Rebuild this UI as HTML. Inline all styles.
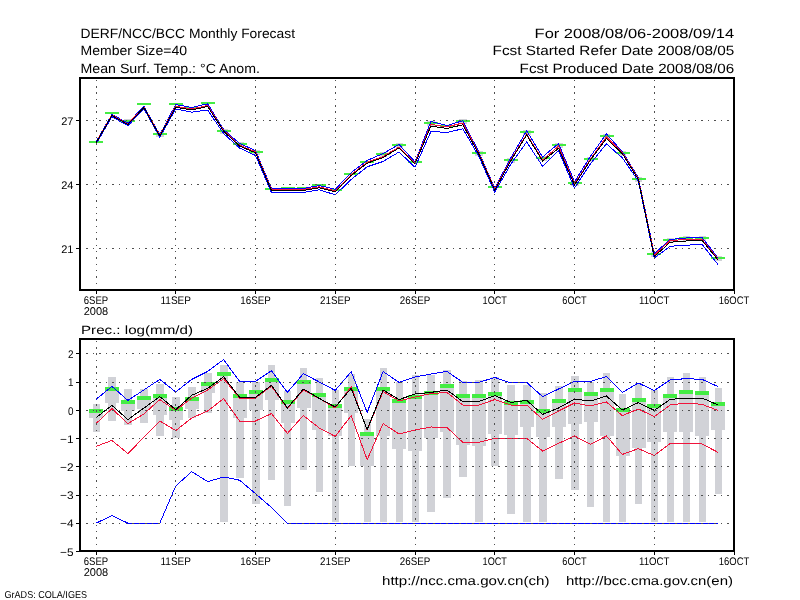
<!DOCTYPE html>
<html><head><meta charset="utf-8"><title>DERF/NCC/BCC Monthly Forecast</title>
<style>html,body{margin:0;padding:0;background:#fff;width:800px;height:600px;overflow:hidden}svg{display:block}</style>
</head><body>
<svg width="800" height="600" viewBox="0 0 800 600" shape-rendering="crispEdges">
<rect x="0" y="0" width="800" height="600" fill="#ffffff"/>
<rect x="124" y="119" width="8" height="5" fill="#d1d2d7"/>
<rect x="156" y="132" width="8" height="5" fill="#d1d2d7"/>
<rect x="220" y="129" width="8" height="5" fill="#d1d2d7"/>
<rect x="236" y="142" width="8" height="5" fill="#d1d2d7"/>
<rect x="252" y="150" width="8" height="5" fill="#d1d2d7"/>
<rect x="380" y="152" width="7" height="5" fill="#d1d2d7"/>
<rect x="396" y="143" width="7" height="5" fill="#d1d2d7"/>
<rect x="427" y="121" width="8" height="5" fill="#d1d2d7"/>
<rect x="459" y="119" width="8" height="5" fill="#d1d2d7"/>
<rect x="475" y="151" width="8" height="5" fill="#d1d2d7"/>
<rect x="507" y="158" width="8" height="5" fill="#d1d2d7"/>
<rect x="523" y="130" width="8" height="5" fill="#d1d2d7"/>
<rect x="539" y="156" width="8" height="5" fill="#d1d2d7"/>
<rect x="555" y="143" width="8" height="5" fill="#d1d2d7"/>
<rect x="571" y="181" width="8" height="5" fill="#d1d2d7"/>
<rect x="587" y="157" width="7" height="5" fill="#d1d2d7"/>
<rect x="603" y="134" width="7" height="5" fill="#d1d2d7"/>
<rect x="619" y="151" width="7" height="5" fill="#d1d2d7"/>
<rect x="635" y="177" width="7" height="5" fill="#d1d2d7"/>
<rect x="651" y="252" width="7" height="5" fill="#d1d2d7"/>
<rect x="667" y="238" width="7" height="5" fill="#d1d2d7"/>
<rect x="683" y="236" width="7" height="5" fill="#d1d2d7"/>
<rect x="699" y="236" width="7" height="5" fill="#d1d2d7"/>
<rect x="715" y="256" width="7" height="5" fill="#d1d2d7"/>
<rect x="89" y="141" width="14" height="2" fill="#44ec44"/>
<rect x="105" y="112" width="14" height="2" fill="#44ec44"/>
<rect x="121" y="120" width="14" height="2" fill="#44ec44"/>
<rect x="137" y="103" width="14" height="2" fill="#44ec44"/>
<rect x="153" y="133" width="14" height="2" fill="#44ec44"/>
<rect x="169" y="103" width="14" height="2" fill="#44ec44"/>
<rect x="185" y="107" width="14" height="2" fill="#44ec44"/>
<rect x="201" y="102" width="14" height="2" fill="#44ec44"/>
<rect x="217" y="130" width="14" height="2" fill="#44ec44"/>
<rect x="233" y="143" width="14" height="2" fill="#44ec44"/>
<rect x="249" y="151" width="14" height="2" fill="#44ec44"/>
<rect x="265" y="188" width="14" height="2" fill="#44ec44"/>
<rect x="281" y="187" width="14" height="2" fill="#44ec44"/>
<rect x="297" y="187" width="14" height="2" fill="#44ec44"/>
<rect x="312" y="184" width="14" height="2" fill="#44ec44"/>
<rect x="328" y="189" width="14" height="2" fill="#44ec44"/>
<rect x="344" y="173" width="14" height="2" fill="#44ec44"/>
<rect x="360" y="161" width="14" height="2" fill="#44ec44"/>
<rect x="376" y="153" width="14" height="2" fill="#44ec44"/>
<rect x="392" y="144" width="14" height="2" fill="#44ec44"/>
<rect x="408" y="161" width="14" height="2" fill="#44ec44"/>
<rect x="424" y="122" width="14" height="2" fill="#44ec44"/>
<rect x="440" y="125" width="14" height="2" fill="#44ec44"/>
<rect x="456" y="120" width="14" height="2" fill="#44ec44"/>
<rect x="472" y="152" width="14" height="2" fill="#44ec44"/>
<rect x="488" y="186" width="14" height="2" fill="#44ec44"/>
<rect x="504" y="159" width="14" height="2" fill="#44ec44"/>
<rect x="520" y="131" width="14" height="2" fill="#44ec44"/>
<rect x="536" y="157" width="14" height="2" fill="#44ec44"/>
<rect x="552" y="144" width="14" height="2" fill="#44ec44"/>
<rect x="568" y="182" width="14" height="2" fill="#44ec44"/>
<rect x="584" y="158" width="14" height="2" fill="#44ec44"/>
<rect x="600" y="135" width="14" height="2" fill="#44ec44"/>
<rect x="616" y="152" width="14" height="2" fill="#44ec44"/>
<rect x="632" y="178" width="14" height="2" fill="#44ec44"/>
<rect x="647" y="253" width="14" height="2" fill="#44ec44"/>
<rect x="663" y="239" width="14" height="2" fill="#44ec44"/>
<rect x="679" y="237" width="14" height="2" fill="#44ec44"/>
<rect x="695" y="237" width="14" height="2" fill="#44ec44"/>
<rect x="711" y="257" width="14" height="2" fill="#44ec44"/>
<polyline points="96,144 111.95,116.7 127.9,125.7 143.85,108.7 159.8,137.2 175.75,109 191.7,112.2 207.65,110 223.6,133.5 239.55,148 255.5,155.5 271.45,192.5 287.4,192.5 303.35,192.5 319.3,189.8 335.25,194.8 351.2,179.5 367.15,166.8 383.1,161.5 399.05,152 415,167.25 430.95,131.3 446.9,132.5 462.85,128.75 478.8,156.2 494.75,192.3 510.7,164.3 526.65,142 542.6,166.25 558.55,150.8 574.5,188 590.45,163.7 606.4,143.8 622.35,157.9 638.3,181 654.25,258 670.2,246.3 686.15,245.2 702.1,244.5 718.05,264.5" fill="none" stroke="#0000ff" stroke-width="1"/>
<polyline points="96,142 111.95,114.3 127.9,123.3 143.85,106.3 159.8,134.8 175.75,104.5 191.7,107.5 207.65,103.8 223.6,129.5 239.55,143.5 255.5,150.5 271.45,188.5 287.4,188.5 303.35,188.5 319.3,185.5 335.25,189.3 351.2,172.5 367.15,160.5 383.1,153.5 399.05,144.5 415,161.85 430.95,121.5 446.9,125.6 462.85,120.65 478.8,152 494.75,188.2 510.7,158 526.65,130.8 542.6,157 558.55,143.5 574.5,181.9 590.45,156.3 606.4,133.9 622.35,151.7 638.3,177.5 654.25,253.5 670.2,239.5 686.15,238 702.1,237.5 718.05,258" fill="none" stroke="#0000ff" stroke-width="1"/>
<polyline points="96,142.5 111.95,115 127.9,124 143.85,107 159.8,135.5 175.75,106.2 191.7,109 207.65,105.5 223.6,130.5 239.55,145.2 255.5,151.8 271.45,189.5 287.4,189.5 303.35,189.5 319.3,186.8 335.25,190.8 351.2,174.5 367.15,162.2 383.1,156.5 399.05,147 415,162.75 430.95,124.4 446.9,126.9 462.85,122.95 478.8,153 494.75,189 510.7,160 526.65,134 542.6,160 558.55,146.1 574.5,184 590.45,159 606.4,137 622.35,152.6 638.3,178.4 654.25,255 670.2,240.5 686.15,239.5 702.1,239.5 718.05,259" fill="none" stroke="#f0143c" stroke-width="1"/>
<polyline points="96,143 111.95,115.5 127.9,124.5 143.85,107.5 159.8,136 175.75,107.2 191.7,110 207.65,106.5 223.6,131.2 239.55,146 255.5,152.8 271.45,190.5 287.4,190.5 303.35,190.5 319.3,187.8 335.25,191.8 351.2,175.5 367.15,163.2 383.1,157.5 399.05,148 415,163.75 430.95,126 446.9,128.5 462.85,124.75 478.8,154 494.75,190 510.7,161 526.65,135 542.6,161 558.55,148.3 574.5,185 590.45,160 606.4,138.7 622.35,153.6 638.3,179.4 654.25,256.5 670.2,242.2 686.15,241 702.1,240.5 718.05,260" fill="none" stroke="#000000" stroke-width="1"/>
<rect x="96" y="80" width="1" height="1" fill="#505050"/>
<rect x="96" y="86" width="1" height="2" fill="#505050"/>
<rect x="96" y="92" width="1" height="2" fill="#505050"/>
<rect x="96" y="99" width="1" height="1" fill="#505050"/>
<rect x="96" y="105" width="1" height="2" fill="#505050"/>
<rect x="96" y="111" width="1" height="2" fill="#505050"/>
<rect x="96" y="118" width="1" height="1" fill="#505050"/>
<rect x="96" y="124" width="1" height="2" fill="#505050"/>
<rect x="96" y="130" width="1" height="2" fill="#505050"/>
<rect x="96" y="137" width="1" height="1" fill="#505050"/>
<rect x="96" y="143" width="1" height="2" fill="#505050"/>
<rect x="96" y="149" width="1" height="2" fill="#505050"/>
<rect x="96" y="156" width="1" height="1" fill="#505050"/>
<rect x="96" y="162" width="1" height="2" fill="#505050"/>
<rect x="96" y="169" width="1" height="1" fill="#505050"/>
<rect x="96" y="175" width="1" height="1" fill="#505050"/>
<rect x="96" y="181" width="1" height="2" fill="#505050"/>
<rect x="96" y="188" width="1" height="1" fill="#505050"/>
<rect x="96" y="194" width="1" height="1" fill="#505050"/>
<rect x="96" y="200" width="1" height="2" fill="#505050"/>
<rect x="96" y="207" width="1" height="1" fill="#505050"/>
<rect x="96" y="213" width="1" height="1" fill="#505050"/>
<rect x="96" y="219" width="1" height="2" fill="#505050"/>
<rect x="96" y="226" width="1" height="1" fill="#505050"/>
<rect x="96" y="232" width="1" height="1" fill="#505050"/>
<rect x="96" y="238" width="1" height="2" fill="#505050"/>
<rect x="96" y="245" width="1" height="1" fill="#505050"/>
<rect x="96" y="251" width="1" height="1" fill="#505050"/>
<rect x="96" y="257" width="1" height="2" fill="#505050"/>
<rect x="96" y="264" width="1" height="1" fill="#505050"/>
<rect x="96" y="270" width="1" height="1" fill="#505050"/>
<rect x="96" y="276" width="1" height="2" fill="#505050"/>
<rect x="96" y="283" width="1" height="1" fill="#505050"/>
<rect x="175" y="80" width="1" height="1" fill="#505050"/>
<rect x="175" y="86" width="1" height="2" fill="#505050"/>
<rect x="175" y="92" width="1" height="2" fill="#505050"/>
<rect x="175" y="99" width="1" height="1" fill="#505050"/>
<rect x="175" y="105" width="1" height="2" fill="#505050"/>
<rect x="175" y="111" width="1" height="2" fill="#505050"/>
<rect x="175" y="118" width="1" height="1" fill="#505050"/>
<rect x="175" y="124" width="1" height="2" fill="#505050"/>
<rect x="175" y="130" width="1" height="2" fill="#505050"/>
<rect x="175" y="137" width="1" height="1" fill="#505050"/>
<rect x="175" y="143" width="1" height="2" fill="#505050"/>
<rect x="175" y="149" width="1" height="2" fill="#505050"/>
<rect x="175" y="156" width="1" height="1" fill="#505050"/>
<rect x="175" y="162" width="1" height="2" fill="#505050"/>
<rect x="175" y="169" width="1" height="1" fill="#505050"/>
<rect x="175" y="175" width="1" height="1" fill="#505050"/>
<rect x="175" y="181" width="1" height="2" fill="#505050"/>
<rect x="175" y="188" width="1" height="1" fill="#505050"/>
<rect x="175" y="194" width="1" height="1" fill="#505050"/>
<rect x="175" y="200" width="1" height="2" fill="#505050"/>
<rect x="175" y="207" width="1" height="1" fill="#505050"/>
<rect x="175" y="213" width="1" height="1" fill="#505050"/>
<rect x="175" y="219" width="1" height="2" fill="#505050"/>
<rect x="175" y="226" width="1" height="1" fill="#505050"/>
<rect x="175" y="232" width="1" height="1" fill="#505050"/>
<rect x="175" y="238" width="1" height="2" fill="#505050"/>
<rect x="175" y="245" width="1" height="1" fill="#505050"/>
<rect x="175" y="251" width="1" height="1" fill="#505050"/>
<rect x="175" y="257" width="1" height="2" fill="#505050"/>
<rect x="175" y="264" width="1" height="1" fill="#505050"/>
<rect x="175" y="270" width="1" height="1" fill="#505050"/>
<rect x="175" y="276" width="1" height="2" fill="#505050"/>
<rect x="175" y="283" width="1" height="1" fill="#505050"/>
<rect x="255" y="80" width="1" height="1" fill="#505050"/>
<rect x="255" y="86" width="1" height="2" fill="#505050"/>
<rect x="255" y="92" width="1" height="2" fill="#505050"/>
<rect x="255" y="99" width="1" height="1" fill="#505050"/>
<rect x="255" y="105" width="1" height="2" fill="#505050"/>
<rect x="255" y="111" width="1" height="2" fill="#505050"/>
<rect x="255" y="118" width="1" height="1" fill="#505050"/>
<rect x="255" y="124" width="1" height="2" fill="#505050"/>
<rect x="255" y="130" width="1" height="2" fill="#505050"/>
<rect x="255" y="137" width="1" height="1" fill="#505050"/>
<rect x="255" y="143" width="1" height="2" fill="#505050"/>
<rect x="255" y="149" width="1" height="2" fill="#505050"/>
<rect x="255" y="156" width="1" height="1" fill="#505050"/>
<rect x="255" y="162" width="1" height="2" fill="#505050"/>
<rect x="255" y="169" width="1" height="1" fill="#505050"/>
<rect x="255" y="175" width="1" height="1" fill="#505050"/>
<rect x="255" y="181" width="1" height="2" fill="#505050"/>
<rect x="255" y="188" width="1" height="1" fill="#505050"/>
<rect x="255" y="194" width="1" height="1" fill="#505050"/>
<rect x="255" y="200" width="1" height="2" fill="#505050"/>
<rect x="255" y="207" width="1" height="1" fill="#505050"/>
<rect x="255" y="213" width="1" height="1" fill="#505050"/>
<rect x="255" y="219" width="1" height="2" fill="#505050"/>
<rect x="255" y="226" width="1" height="1" fill="#505050"/>
<rect x="255" y="232" width="1" height="1" fill="#505050"/>
<rect x="255" y="238" width="1" height="2" fill="#505050"/>
<rect x="255" y="245" width="1" height="1" fill="#505050"/>
<rect x="255" y="251" width="1" height="1" fill="#505050"/>
<rect x="255" y="257" width="1" height="2" fill="#505050"/>
<rect x="255" y="264" width="1" height="1" fill="#505050"/>
<rect x="255" y="270" width="1" height="1" fill="#505050"/>
<rect x="255" y="276" width="1" height="2" fill="#505050"/>
<rect x="255" y="283" width="1" height="1" fill="#505050"/>
<rect x="335" y="80" width="1" height="1" fill="#505050"/>
<rect x="335" y="86" width="1" height="2" fill="#505050"/>
<rect x="335" y="92" width="1" height="2" fill="#505050"/>
<rect x="335" y="99" width="1" height="1" fill="#505050"/>
<rect x="335" y="105" width="1" height="2" fill="#505050"/>
<rect x="335" y="111" width="1" height="2" fill="#505050"/>
<rect x="335" y="118" width="1" height="1" fill="#505050"/>
<rect x="335" y="124" width="1" height="2" fill="#505050"/>
<rect x="335" y="130" width="1" height="2" fill="#505050"/>
<rect x="335" y="137" width="1" height="1" fill="#505050"/>
<rect x="335" y="143" width="1" height="2" fill="#505050"/>
<rect x="335" y="149" width="1" height="2" fill="#505050"/>
<rect x="335" y="156" width="1" height="1" fill="#505050"/>
<rect x="335" y="162" width="1" height="2" fill="#505050"/>
<rect x="335" y="169" width="1" height="1" fill="#505050"/>
<rect x="335" y="175" width="1" height="1" fill="#505050"/>
<rect x="335" y="181" width="1" height="2" fill="#505050"/>
<rect x="335" y="188" width="1" height="1" fill="#505050"/>
<rect x="335" y="194" width="1" height="1" fill="#505050"/>
<rect x="335" y="200" width="1" height="2" fill="#505050"/>
<rect x="335" y="207" width="1" height="1" fill="#505050"/>
<rect x="335" y="213" width="1" height="1" fill="#505050"/>
<rect x="335" y="219" width="1" height="2" fill="#505050"/>
<rect x="335" y="226" width="1" height="1" fill="#505050"/>
<rect x="335" y="232" width="1" height="1" fill="#505050"/>
<rect x="335" y="238" width="1" height="2" fill="#505050"/>
<rect x="335" y="245" width="1" height="1" fill="#505050"/>
<rect x="335" y="251" width="1" height="1" fill="#505050"/>
<rect x="335" y="257" width="1" height="2" fill="#505050"/>
<rect x="335" y="264" width="1" height="1" fill="#505050"/>
<rect x="335" y="270" width="1" height="1" fill="#505050"/>
<rect x="335" y="276" width="1" height="2" fill="#505050"/>
<rect x="335" y="283" width="1" height="1" fill="#505050"/>
<rect x="415" y="80" width="1" height="1" fill="#505050"/>
<rect x="415" y="86" width="1" height="2" fill="#505050"/>
<rect x="415" y="92" width="1" height="2" fill="#505050"/>
<rect x="415" y="99" width="1" height="1" fill="#505050"/>
<rect x="415" y="105" width="1" height="2" fill="#505050"/>
<rect x="415" y="111" width="1" height="2" fill="#505050"/>
<rect x="415" y="118" width="1" height="1" fill="#505050"/>
<rect x="415" y="124" width="1" height="2" fill="#505050"/>
<rect x="415" y="130" width="1" height="2" fill="#505050"/>
<rect x="415" y="137" width="1" height="1" fill="#505050"/>
<rect x="415" y="143" width="1" height="2" fill="#505050"/>
<rect x="415" y="149" width="1" height="2" fill="#505050"/>
<rect x="415" y="156" width="1" height="1" fill="#505050"/>
<rect x="415" y="162" width="1" height="2" fill="#505050"/>
<rect x="415" y="169" width="1" height="1" fill="#505050"/>
<rect x="415" y="175" width="1" height="1" fill="#505050"/>
<rect x="415" y="181" width="1" height="2" fill="#505050"/>
<rect x="415" y="188" width="1" height="1" fill="#505050"/>
<rect x="415" y="194" width="1" height="1" fill="#505050"/>
<rect x="415" y="200" width="1" height="2" fill="#505050"/>
<rect x="415" y="207" width="1" height="1" fill="#505050"/>
<rect x="415" y="213" width="1" height="1" fill="#505050"/>
<rect x="415" y="219" width="1" height="2" fill="#505050"/>
<rect x="415" y="226" width="1" height="1" fill="#505050"/>
<rect x="415" y="232" width="1" height="1" fill="#505050"/>
<rect x="415" y="238" width="1" height="2" fill="#505050"/>
<rect x="415" y="245" width="1" height="1" fill="#505050"/>
<rect x="415" y="251" width="1" height="1" fill="#505050"/>
<rect x="415" y="257" width="1" height="2" fill="#505050"/>
<rect x="415" y="264" width="1" height="1" fill="#505050"/>
<rect x="415" y="270" width="1" height="1" fill="#505050"/>
<rect x="415" y="276" width="1" height="2" fill="#505050"/>
<rect x="415" y="283" width="1" height="1" fill="#505050"/>
<rect x="494" y="80" width="1" height="1" fill="#505050"/>
<rect x="494" y="86" width="1" height="2" fill="#505050"/>
<rect x="494" y="92" width="1" height="2" fill="#505050"/>
<rect x="494" y="99" width="1" height="1" fill="#505050"/>
<rect x="494" y="105" width="1" height="2" fill="#505050"/>
<rect x="494" y="111" width="1" height="2" fill="#505050"/>
<rect x="494" y="118" width="1" height="1" fill="#505050"/>
<rect x="494" y="124" width="1" height="2" fill="#505050"/>
<rect x="494" y="130" width="1" height="2" fill="#505050"/>
<rect x="494" y="137" width="1" height="1" fill="#505050"/>
<rect x="494" y="143" width="1" height="2" fill="#505050"/>
<rect x="494" y="149" width="1" height="2" fill="#505050"/>
<rect x="494" y="156" width="1" height="1" fill="#505050"/>
<rect x="494" y="162" width="1" height="2" fill="#505050"/>
<rect x="494" y="169" width="1" height="1" fill="#505050"/>
<rect x="494" y="175" width="1" height="1" fill="#505050"/>
<rect x="494" y="181" width="1" height="2" fill="#505050"/>
<rect x="494" y="188" width="1" height="1" fill="#505050"/>
<rect x="494" y="194" width="1" height="1" fill="#505050"/>
<rect x="494" y="200" width="1" height="2" fill="#505050"/>
<rect x="494" y="207" width="1" height="1" fill="#505050"/>
<rect x="494" y="213" width="1" height="1" fill="#505050"/>
<rect x="494" y="219" width="1" height="2" fill="#505050"/>
<rect x="494" y="226" width="1" height="1" fill="#505050"/>
<rect x="494" y="232" width="1" height="1" fill="#505050"/>
<rect x="494" y="238" width="1" height="2" fill="#505050"/>
<rect x="494" y="245" width="1" height="1" fill="#505050"/>
<rect x="494" y="251" width="1" height="1" fill="#505050"/>
<rect x="494" y="257" width="1" height="2" fill="#505050"/>
<rect x="494" y="264" width="1" height="1" fill="#505050"/>
<rect x="494" y="270" width="1" height="1" fill="#505050"/>
<rect x="494" y="276" width="1" height="2" fill="#505050"/>
<rect x="494" y="283" width="1" height="1" fill="#505050"/>
<rect x="574" y="80" width="1" height="1" fill="#505050"/>
<rect x="574" y="86" width="1" height="2" fill="#505050"/>
<rect x="574" y="92" width="1" height="2" fill="#505050"/>
<rect x="574" y="99" width="1" height="1" fill="#505050"/>
<rect x="574" y="105" width="1" height="2" fill="#505050"/>
<rect x="574" y="111" width="1" height="2" fill="#505050"/>
<rect x="574" y="118" width="1" height="1" fill="#505050"/>
<rect x="574" y="124" width="1" height="2" fill="#505050"/>
<rect x="574" y="130" width="1" height="2" fill="#505050"/>
<rect x="574" y="137" width="1" height="1" fill="#505050"/>
<rect x="574" y="143" width="1" height="2" fill="#505050"/>
<rect x="574" y="149" width="1" height="2" fill="#505050"/>
<rect x="574" y="156" width="1" height="1" fill="#505050"/>
<rect x="574" y="162" width="1" height="2" fill="#505050"/>
<rect x="574" y="169" width="1" height="1" fill="#505050"/>
<rect x="574" y="175" width="1" height="1" fill="#505050"/>
<rect x="574" y="181" width="1" height="2" fill="#505050"/>
<rect x="574" y="188" width="1" height="1" fill="#505050"/>
<rect x="574" y="194" width="1" height="1" fill="#505050"/>
<rect x="574" y="200" width="1" height="2" fill="#505050"/>
<rect x="574" y="207" width="1" height="1" fill="#505050"/>
<rect x="574" y="213" width="1" height="1" fill="#505050"/>
<rect x="574" y="219" width="1" height="2" fill="#505050"/>
<rect x="574" y="226" width="1" height="1" fill="#505050"/>
<rect x="574" y="232" width="1" height="1" fill="#505050"/>
<rect x="574" y="238" width="1" height="2" fill="#505050"/>
<rect x="574" y="245" width="1" height="1" fill="#505050"/>
<rect x="574" y="251" width="1" height="1" fill="#505050"/>
<rect x="574" y="257" width="1" height="2" fill="#505050"/>
<rect x="574" y="264" width="1" height="1" fill="#505050"/>
<rect x="574" y="270" width="1" height="1" fill="#505050"/>
<rect x="574" y="276" width="1" height="2" fill="#505050"/>
<rect x="574" y="283" width="1" height="1" fill="#505050"/>
<rect x="654" y="80" width="1" height="1" fill="#505050"/>
<rect x="654" y="86" width="1" height="2" fill="#505050"/>
<rect x="654" y="92" width="1" height="2" fill="#505050"/>
<rect x="654" y="99" width="1" height="1" fill="#505050"/>
<rect x="654" y="105" width="1" height="2" fill="#505050"/>
<rect x="654" y="111" width="1" height="2" fill="#505050"/>
<rect x="654" y="118" width="1" height="1" fill="#505050"/>
<rect x="654" y="124" width="1" height="2" fill="#505050"/>
<rect x="654" y="130" width="1" height="2" fill="#505050"/>
<rect x="654" y="137" width="1" height="1" fill="#505050"/>
<rect x="654" y="143" width="1" height="2" fill="#505050"/>
<rect x="654" y="149" width="1" height="2" fill="#505050"/>
<rect x="654" y="156" width="1" height="1" fill="#505050"/>
<rect x="654" y="162" width="1" height="2" fill="#505050"/>
<rect x="654" y="169" width="1" height="1" fill="#505050"/>
<rect x="654" y="175" width="1" height="1" fill="#505050"/>
<rect x="654" y="181" width="1" height="2" fill="#505050"/>
<rect x="654" y="188" width="1" height="1" fill="#505050"/>
<rect x="654" y="194" width="1" height="1" fill="#505050"/>
<rect x="654" y="200" width="1" height="2" fill="#505050"/>
<rect x="654" y="207" width="1" height="1" fill="#505050"/>
<rect x="654" y="213" width="1" height="1" fill="#505050"/>
<rect x="654" y="219" width="1" height="2" fill="#505050"/>
<rect x="654" y="226" width="1" height="1" fill="#505050"/>
<rect x="654" y="232" width="1" height="1" fill="#505050"/>
<rect x="654" y="238" width="1" height="2" fill="#505050"/>
<rect x="654" y="245" width="1" height="1" fill="#505050"/>
<rect x="654" y="251" width="1" height="1" fill="#505050"/>
<rect x="654" y="257" width="1" height="2" fill="#505050"/>
<rect x="654" y="264" width="1" height="1" fill="#505050"/>
<rect x="654" y="270" width="1" height="1" fill="#505050"/>
<rect x="654" y="276" width="1" height="2" fill="#505050"/>
<rect x="654" y="283" width="1" height="1" fill="#505050"/>
<rect x="86" y="120" width="2" height="1" fill="#505050"/>
<rect x="93" y="120" width="1" height="1" fill="#505050"/>
<rect x="99" y="120" width="2" height="1" fill="#505050"/>
<rect x="106" y="120" width="1" height="1" fill="#505050"/>
<rect x="112" y="120" width="2" height="1" fill="#505050"/>
<rect x="119" y="120" width="1" height="1" fill="#505050"/>
<rect x="126" y="120" width="1" height="1" fill="#505050"/>
<rect x="132" y="120" width="2" height="1" fill="#505050"/>
<rect x="139" y="120" width="1" height="1" fill="#505050"/>
<rect x="145" y="120" width="2" height="1" fill="#505050"/>
<rect x="152" y="120" width="1" height="1" fill="#505050"/>
<rect x="158" y="120" width="2" height="1" fill="#505050"/>
<rect x="165" y="120" width="1" height="1" fill="#505050"/>
<rect x="171" y="120" width="2" height="1" fill="#505050"/>
<rect x="178" y="120" width="1" height="1" fill="#505050"/>
<rect x="184" y="120" width="2" height="1" fill="#505050"/>
<rect x="191" y="120" width="1" height="1" fill="#505050"/>
<rect x="197" y="120" width="2" height="1" fill="#505050"/>
<rect x="204" y="120" width="2" height="1" fill="#505050"/>
<rect x="211" y="120" width="1" height="1" fill="#505050"/>
<rect x="217" y="120" width="2" height="1" fill="#505050"/>
<rect x="224" y="120" width="1" height="1" fill="#505050"/>
<rect x="230" y="120" width="2" height="1" fill="#505050"/>
<rect x="237" y="120" width="1" height="1" fill="#505050"/>
<rect x="243" y="120" width="2" height="1" fill="#505050"/>
<rect x="250" y="120" width="1" height="1" fill="#505050"/>
<rect x="256" y="120" width="2" height="1" fill="#505050"/>
<rect x="263" y="120" width="1" height="1" fill="#505050"/>
<rect x="269" y="120" width="2" height="1" fill="#505050"/>
<rect x="276" y="120" width="1" height="1" fill="#505050"/>
<rect x="283" y="120" width="1" height="1" fill="#505050"/>
<rect x="289" y="120" width="2" height="1" fill="#505050"/>
<rect x="296" y="120" width="1" height="1" fill="#505050"/>
<rect x="302" y="120" width="2" height="1" fill="#505050"/>
<rect x="309" y="120" width="1" height="1" fill="#505050"/>
<rect x="315" y="120" width="2" height="1" fill="#505050"/>
<rect x="322" y="120" width="1" height="1" fill="#505050"/>
<rect x="328" y="120" width="2" height="1" fill="#505050"/>
<rect x="335" y="120" width="1" height="1" fill="#505050"/>
<rect x="341" y="120" width="2" height="1" fill="#505050"/>
<rect x="348" y="120" width="1" height="1" fill="#505050"/>
<rect x="355" y="120" width="1" height="1" fill="#505050"/>
<rect x="361" y="120" width="2" height="1" fill="#505050"/>
<rect x="368" y="120" width="1" height="1" fill="#505050"/>
<rect x="374" y="120" width="2" height="1" fill="#505050"/>
<rect x="381" y="120" width="1" height="1" fill="#505050"/>
<rect x="387" y="120" width="2" height="1" fill="#505050"/>
<rect x="394" y="120" width="1" height="1" fill="#505050"/>
<rect x="400" y="120" width="2" height="1" fill="#505050"/>
<rect x="407" y="120" width="1" height="1" fill="#505050"/>
<rect x="413" y="120" width="2" height="1" fill="#505050"/>
<rect x="420" y="120" width="1" height="1" fill="#505050"/>
<rect x="426" y="120" width="2" height="1" fill="#505050"/>
<rect x="433" y="120" width="2" height="1" fill="#505050"/>
<rect x="440" y="120" width="1" height="1" fill="#505050"/>
<rect x="446" y="120" width="2" height="1" fill="#505050"/>
<rect x="453" y="120" width="1" height="1" fill="#505050"/>
<rect x="459" y="120" width="2" height="1" fill="#505050"/>
<rect x="466" y="120" width="1" height="1" fill="#505050"/>
<rect x="472" y="120" width="2" height="1" fill="#505050"/>
<rect x="479" y="120" width="1" height="1" fill="#505050"/>
<rect x="485" y="120" width="2" height="1" fill="#505050"/>
<rect x="492" y="120" width="1" height="1" fill="#505050"/>
<rect x="498" y="120" width="2" height="1" fill="#505050"/>
<rect x="505" y="120" width="2" height="1" fill="#505050"/>
<rect x="512" y="120" width="1" height="1" fill="#505050"/>
<rect x="518" y="120" width="2" height="1" fill="#505050"/>
<rect x="525" y="120" width="1" height="1" fill="#505050"/>
<rect x="531" y="120" width="2" height="1" fill="#505050"/>
<rect x="538" y="120" width="1" height="1" fill="#505050"/>
<rect x="544" y="120" width="2" height="1" fill="#505050"/>
<rect x="551" y="120" width="1" height="1" fill="#505050"/>
<rect x="557" y="120" width="2" height="1" fill="#505050"/>
<rect x="564" y="120" width="1" height="1" fill="#505050"/>
<rect x="570" y="120" width="2" height="1" fill="#505050"/>
<rect x="577" y="120" width="1" height="1" fill="#505050"/>
<rect x="584" y="120" width="1" height="1" fill="#505050"/>
<rect x="590" y="120" width="2" height="1" fill="#505050"/>
<rect x="597" y="120" width="1" height="1" fill="#505050"/>
<rect x="603" y="120" width="2" height="1" fill="#505050"/>
<rect x="610" y="120" width="1" height="1" fill="#505050"/>
<rect x="616" y="120" width="2" height="1" fill="#505050"/>
<rect x="623" y="120" width="1" height="1" fill="#505050"/>
<rect x="629" y="120" width="2" height="1" fill="#505050"/>
<rect x="636" y="120" width="1" height="1" fill="#505050"/>
<rect x="642" y="120" width="2" height="1" fill="#505050"/>
<rect x="649" y="120" width="1" height="1" fill="#505050"/>
<rect x="655" y="120" width="2" height="1" fill="#505050"/>
<rect x="662" y="120" width="2" height="1" fill="#505050"/>
<rect x="669" y="120" width="1" height="1" fill="#505050"/>
<rect x="675" y="120" width="2" height="1" fill="#505050"/>
<rect x="682" y="120" width="1" height="1" fill="#505050"/>
<rect x="688" y="120" width="2" height="1" fill="#505050"/>
<rect x="695" y="120" width="1" height="1" fill="#505050"/>
<rect x="701" y="120" width="2" height="1" fill="#505050"/>
<rect x="708" y="120" width="1" height="1" fill="#505050"/>
<rect x="714" y="120" width="2" height="1" fill="#505050"/>
<rect x="721" y="120" width="1" height="1" fill="#505050"/>
<rect x="727" y="120" width="2" height="1" fill="#505050"/>
<rect x="86" y="184" width="2" height="1" fill="#505050"/>
<rect x="93" y="184" width="1" height="1" fill="#505050"/>
<rect x="99" y="184" width="2" height="1" fill="#505050"/>
<rect x="106" y="184" width="1" height="1" fill="#505050"/>
<rect x="112" y="184" width="2" height="1" fill="#505050"/>
<rect x="119" y="184" width="1" height="1" fill="#505050"/>
<rect x="126" y="184" width="1" height="1" fill="#505050"/>
<rect x="132" y="184" width="2" height="1" fill="#505050"/>
<rect x="139" y="184" width="1" height="1" fill="#505050"/>
<rect x="145" y="184" width="2" height="1" fill="#505050"/>
<rect x="152" y="184" width="1" height="1" fill="#505050"/>
<rect x="158" y="184" width="2" height="1" fill="#505050"/>
<rect x="165" y="184" width="1" height="1" fill="#505050"/>
<rect x="171" y="184" width="2" height="1" fill="#505050"/>
<rect x="178" y="184" width="1" height="1" fill="#505050"/>
<rect x="184" y="184" width="2" height="1" fill="#505050"/>
<rect x="191" y="184" width="1" height="1" fill="#505050"/>
<rect x="197" y="184" width="2" height="1" fill="#505050"/>
<rect x="204" y="184" width="2" height="1" fill="#505050"/>
<rect x="211" y="184" width="1" height="1" fill="#505050"/>
<rect x="217" y="184" width="2" height="1" fill="#505050"/>
<rect x="224" y="184" width="1" height="1" fill="#505050"/>
<rect x="230" y="184" width="2" height="1" fill="#505050"/>
<rect x="237" y="184" width="1" height="1" fill="#505050"/>
<rect x="243" y="184" width="2" height="1" fill="#505050"/>
<rect x="250" y="184" width="1" height="1" fill="#505050"/>
<rect x="256" y="184" width="2" height="1" fill="#505050"/>
<rect x="263" y="184" width="1" height="1" fill="#505050"/>
<rect x="269" y="184" width="2" height="1" fill="#505050"/>
<rect x="276" y="184" width="1" height="1" fill="#505050"/>
<rect x="283" y="184" width="1" height="1" fill="#505050"/>
<rect x="289" y="184" width="2" height="1" fill="#505050"/>
<rect x="296" y="184" width="1" height="1" fill="#505050"/>
<rect x="302" y="184" width="2" height="1" fill="#505050"/>
<rect x="309" y="184" width="1" height="1" fill="#505050"/>
<rect x="315" y="184" width="2" height="1" fill="#505050"/>
<rect x="322" y="184" width="1" height="1" fill="#505050"/>
<rect x="328" y="184" width="2" height="1" fill="#505050"/>
<rect x="335" y="184" width="1" height="1" fill="#505050"/>
<rect x="341" y="184" width="2" height="1" fill="#505050"/>
<rect x="348" y="184" width="1" height="1" fill="#505050"/>
<rect x="355" y="184" width="1" height="1" fill="#505050"/>
<rect x="361" y="184" width="2" height="1" fill="#505050"/>
<rect x="368" y="184" width="1" height="1" fill="#505050"/>
<rect x="374" y="184" width="2" height="1" fill="#505050"/>
<rect x="381" y="184" width="1" height="1" fill="#505050"/>
<rect x="387" y="184" width="2" height="1" fill="#505050"/>
<rect x="394" y="184" width="1" height="1" fill="#505050"/>
<rect x="400" y="184" width="2" height="1" fill="#505050"/>
<rect x="407" y="184" width="1" height="1" fill="#505050"/>
<rect x="413" y="184" width="2" height="1" fill="#505050"/>
<rect x="420" y="184" width="1" height="1" fill="#505050"/>
<rect x="426" y="184" width="2" height="1" fill="#505050"/>
<rect x="433" y="184" width="2" height="1" fill="#505050"/>
<rect x="440" y="184" width="1" height="1" fill="#505050"/>
<rect x="446" y="184" width="2" height="1" fill="#505050"/>
<rect x="453" y="184" width="1" height="1" fill="#505050"/>
<rect x="459" y="184" width="2" height="1" fill="#505050"/>
<rect x="466" y="184" width="1" height="1" fill="#505050"/>
<rect x="472" y="184" width="2" height="1" fill="#505050"/>
<rect x="479" y="184" width="1" height="1" fill="#505050"/>
<rect x="485" y="184" width="2" height="1" fill="#505050"/>
<rect x="492" y="184" width="1" height="1" fill="#505050"/>
<rect x="498" y="184" width="2" height="1" fill="#505050"/>
<rect x="505" y="184" width="2" height="1" fill="#505050"/>
<rect x="512" y="184" width="1" height="1" fill="#505050"/>
<rect x="518" y="184" width="2" height="1" fill="#505050"/>
<rect x="525" y="184" width="1" height="1" fill="#505050"/>
<rect x="531" y="184" width="2" height="1" fill="#505050"/>
<rect x="538" y="184" width="1" height="1" fill="#505050"/>
<rect x="544" y="184" width="2" height="1" fill="#505050"/>
<rect x="551" y="184" width="1" height="1" fill="#505050"/>
<rect x="557" y="184" width="2" height="1" fill="#505050"/>
<rect x="564" y="184" width="1" height="1" fill="#505050"/>
<rect x="570" y="184" width="2" height="1" fill="#505050"/>
<rect x="577" y="184" width="1" height="1" fill="#505050"/>
<rect x="584" y="184" width="1" height="1" fill="#505050"/>
<rect x="590" y="184" width="2" height="1" fill="#505050"/>
<rect x="597" y="184" width="1" height="1" fill="#505050"/>
<rect x="603" y="184" width="2" height="1" fill="#505050"/>
<rect x="610" y="184" width="1" height="1" fill="#505050"/>
<rect x="616" y="184" width="2" height="1" fill="#505050"/>
<rect x="623" y="184" width="1" height="1" fill="#505050"/>
<rect x="629" y="184" width="2" height="1" fill="#505050"/>
<rect x="636" y="184" width="1" height="1" fill="#505050"/>
<rect x="642" y="184" width="2" height="1" fill="#505050"/>
<rect x="649" y="184" width="1" height="1" fill="#505050"/>
<rect x="655" y="184" width="2" height="1" fill="#505050"/>
<rect x="662" y="184" width="2" height="1" fill="#505050"/>
<rect x="669" y="184" width="1" height="1" fill="#505050"/>
<rect x="675" y="184" width="2" height="1" fill="#505050"/>
<rect x="682" y="184" width="1" height="1" fill="#505050"/>
<rect x="688" y="184" width="2" height="1" fill="#505050"/>
<rect x="695" y="184" width="1" height="1" fill="#505050"/>
<rect x="701" y="184" width="2" height="1" fill="#505050"/>
<rect x="708" y="184" width="1" height="1" fill="#505050"/>
<rect x="714" y="184" width="2" height="1" fill="#505050"/>
<rect x="721" y="184" width="1" height="1" fill="#505050"/>
<rect x="727" y="184" width="2" height="1" fill="#505050"/>
<rect x="86" y="248" width="2" height="1" fill="#505050"/>
<rect x="93" y="248" width="1" height="1" fill="#505050"/>
<rect x="99" y="248" width="2" height="1" fill="#505050"/>
<rect x="106" y="248" width="1" height="1" fill="#505050"/>
<rect x="112" y="248" width="2" height="1" fill="#505050"/>
<rect x="119" y="248" width="1" height="1" fill="#505050"/>
<rect x="126" y="248" width="1" height="1" fill="#505050"/>
<rect x="132" y="248" width="2" height="1" fill="#505050"/>
<rect x="139" y="248" width="1" height="1" fill="#505050"/>
<rect x="145" y="248" width="2" height="1" fill="#505050"/>
<rect x="152" y="248" width="1" height="1" fill="#505050"/>
<rect x="158" y="248" width="2" height="1" fill="#505050"/>
<rect x="165" y="248" width="1" height="1" fill="#505050"/>
<rect x="171" y="248" width="2" height="1" fill="#505050"/>
<rect x="178" y="248" width="1" height="1" fill="#505050"/>
<rect x="184" y="248" width="2" height="1" fill="#505050"/>
<rect x="191" y="248" width="1" height="1" fill="#505050"/>
<rect x="197" y="248" width="2" height="1" fill="#505050"/>
<rect x="204" y="248" width="2" height="1" fill="#505050"/>
<rect x="211" y="248" width="1" height="1" fill="#505050"/>
<rect x="217" y="248" width="2" height="1" fill="#505050"/>
<rect x="224" y="248" width="1" height="1" fill="#505050"/>
<rect x="230" y="248" width="2" height="1" fill="#505050"/>
<rect x="237" y="248" width="1" height="1" fill="#505050"/>
<rect x="243" y="248" width="2" height="1" fill="#505050"/>
<rect x="250" y="248" width="1" height="1" fill="#505050"/>
<rect x="256" y="248" width="2" height="1" fill="#505050"/>
<rect x="263" y="248" width="1" height="1" fill="#505050"/>
<rect x="269" y="248" width="2" height="1" fill="#505050"/>
<rect x="276" y="248" width="1" height="1" fill="#505050"/>
<rect x="283" y="248" width="1" height="1" fill="#505050"/>
<rect x="289" y="248" width="2" height="1" fill="#505050"/>
<rect x="296" y="248" width="1" height="1" fill="#505050"/>
<rect x="302" y="248" width="2" height="1" fill="#505050"/>
<rect x="309" y="248" width="1" height="1" fill="#505050"/>
<rect x="315" y="248" width="2" height="1" fill="#505050"/>
<rect x="322" y="248" width="1" height="1" fill="#505050"/>
<rect x="328" y="248" width="2" height="1" fill="#505050"/>
<rect x="335" y="248" width="1" height="1" fill="#505050"/>
<rect x="341" y="248" width="2" height="1" fill="#505050"/>
<rect x="348" y="248" width="1" height="1" fill="#505050"/>
<rect x="355" y="248" width="1" height="1" fill="#505050"/>
<rect x="361" y="248" width="2" height="1" fill="#505050"/>
<rect x="368" y="248" width="1" height="1" fill="#505050"/>
<rect x="374" y="248" width="2" height="1" fill="#505050"/>
<rect x="381" y="248" width="1" height="1" fill="#505050"/>
<rect x="387" y="248" width="2" height="1" fill="#505050"/>
<rect x="394" y="248" width="1" height="1" fill="#505050"/>
<rect x="400" y="248" width="2" height="1" fill="#505050"/>
<rect x="407" y="248" width="1" height="1" fill="#505050"/>
<rect x="413" y="248" width="2" height="1" fill="#505050"/>
<rect x="420" y="248" width="1" height="1" fill="#505050"/>
<rect x="426" y="248" width="2" height="1" fill="#505050"/>
<rect x="433" y="248" width="2" height="1" fill="#505050"/>
<rect x="440" y="248" width="1" height="1" fill="#505050"/>
<rect x="446" y="248" width="2" height="1" fill="#505050"/>
<rect x="453" y="248" width="1" height="1" fill="#505050"/>
<rect x="459" y="248" width="2" height="1" fill="#505050"/>
<rect x="466" y="248" width="1" height="1" fill="#505050"/>
<rect x="472" y="248" width="2" height="1" fill="#505050"/>
<rect x="479" y="248" width="1" height="1" fill="#505050"/>
<rect x="485" y="248" width="2" height="1" fill="#505050"/>
<rect x="492" y="248" width="1" height="1" fill="#505050"/>
<rect x="498" y="248" width="2" height="1" fill="#505050"/>
<rect x="505" y="248" width="2" height="1" fill="#505050"/>
<rect x="512" y="248" width="1" height="1" fill="#505050"/>
<rect x="518" y="248" width="2" height="1" fill="#505050"/>
<rect x="525" y="248" width="1" height="1" fill="#505050"/>
<rect x="531" y="248" width="2" height="1" fill="#505050"/>
<rect x="538" y="248" width="1" height="1" fill="#505050"/>
<rect x="544" y="248" width="2" height="1" fill="#505050"/>
<rect x="551" y="248" width="1" height="1" fill="#505050"/>
<rect x="557" y="248" width="2" height="1" fill="#505050"/>
<rect x="564" y="248" width="1" height="1" fill="#505050"/>
<rect x="570" y="248" width="2" height="1" fill="#505050"/>
<rect x="577" y="248" width="1" height="1" fill="#505050"/>
<rect x="584" y="248" width="1" height="1" fill="#505050"/>
<rect x="590" y="248" width="2" height="1" fill="#505050"/>
<rect x="597" y="248" width="1" height="1" fill="#505050"/>
<rect x="603" y="248" width="2" height="1" fill="#505050"/>
<rect x="610" y="248" width="1" height="1" fill="#505050"/>
<rect x="616" y="248" width="2" height="1" fill="#505050"/>
<rect x="623" y="248" width="1" height="1" fill="#505050"/>
<rect x="629" y="248" width="2" height="1" fill="#505050"/>
<rect x="636" y="248" width="1" height="1" fill="#505050"/>
<rect x="642" y="248" width="2" height="1" fill="#505050"/>
<rect x="649" y="248" width="1" height="1" fill="#505050"/>
<rect x="655" y="248" width="2" height="1" fill="#505050"/>
<rect x="662" y="248" width="2" height="1" fill="#505050"/>
<rect x="669" y="248" width="1" height="1" fill="#505050"/>
<rect x="675" y="248" width="2" height="1" fill="#505050"/>
<rect x="682" y="248" width="1" height="1" fill="#505050"/>
<rect x="688" y="248" width="2" height="1" fill="#505050"/>
<rect x="695" y="248" width="1" height="1" fill="#505050"/>
<rect x="701" y="248" width="2" height="1" fill="#505050"/>
<rect x="708" y="248" width="1" height="1" fill="#505050"/>
<rect x="714" y="248" width="2" height="1" fill="#505050"/>
<rect x="721" y="248" width="1" height="1" fill="#505050"/>
<rect x="727" y="248" width="2" height="1" fill="#505050"/>
<rect x="80" y="78" width="654" height="212" fill="none" stroke="#000" stroke-width="2"/>
<rect x="96" y="291" width="1" height="3" fill="#000"/>
<rect x="175" y="291" width="1" height="3" fill="#000"/>
<rect x="255" y="291" width="1" height="3" fill="#000"/>
<rect x="335" y="291" width="1" height="3" fill="#000"/>
<rect x="415" y="291" width="1" height="3" fill="#000"/>
<rect x="494" y="291" width="1" height="3" fill="#000"/>
<rect x="574" y="291" width="1" height="3" fill="#000"/>
<rect x="654" y="291" width="1" height="3" fill="#000"/>
<rect x="734" y="291" width="1" height="3" fill="#000"/>
<rect x="76" y="120" width="3" height="1" fill="#000"/>
<rect x="76" y="184" width="3" height="1" fill="#000"/>
<rect x="76" y="248" width="3" height="1" fill="#000"/>
<rect x="93" y="404" width="7" height="28" fill="#d1d2d7"/>
<rect x="89" y="409" width="14" height="9" fill="#d1d2d7"/>
<rect x="108" y="377" width="8" height="44" fill="#d1d2d7"/>
<rect x="105" y="387" width="14" height="16" fill="#d1d2d7"/>
<rect x="124" y="389" width="8" height="36" fill="#d1d2d7"/>
<rect x="121" y="400" width="14" height="11" fill="#d1d2d7"/>
<rect x="140" y="389" width="8" height="34" fill="#d1d2d7"/>
<rect x="137" y="396" width="14" height="13" fill="#d1d2d7"/>
<rect x="156" y="384" width="8" height="52" fill="#d1d2d7"/>
<rect x="153" y="394" width="14" height="21" fill="#d1d2d7"/>
<rect x="172" y="397" width="8" height="41" fill="#d1d2d7"/>
<rect x="169" y="407" width="14" height="13" fill="#d1d2d7"/>
<rect x="188" y="387" width="8" height="31" fill="#d1d2d7"/>
<rect x="185" y="397" width="14" height="12" fill="#d1d2d7"/>
<rect x="204" y="373" width="8" height="40" fill="#d1d2d7"/>
<rect x="201" y="382" width="14" height="11" fill="#d1d2d7"/>
<rect x="220" y="365" width="8" height="157" fill="#d1d2d7"/>
<rect x="217" y="372" width="14" height="4" fill="#d1d2d7"/>
<rect x="236" y="382" width="8" height="96" fill="#d1d2d7"/>
<rect x="233" y="394" width="14" height="24" fill="#d1d2d7"/>
<rect x="252" y="382" width="8" height="122" fill="#d1d2d7"/>
<rect x="249" y="390" width="14" height="20" fill="#d1d2d7"/>
<rect x="268" y="365" width="7" height="115" fill="#d1d2d7"/>
<rect x="265" y="378" width="14" height="22" fill="#d1d2d7"/>
<rect x="284" y="391" width="7" height="115" fill="#d1d2d7"/>
<rect x="281" y="400" width="14" height="23" fill="#d1d2d7"/>
<rect x="300" y="368" width="7" height="102" fill="#d1d2d7"/>
<rect x="297" y="380" width="14" height="28" fill="#d1d2d7"/>
<rect x="316" y="378" width="7" height="114" fill="#d1d2d7"/>
<rect x="312" y="393" width="14" height="37" fill="#d1d2d7"/>
<rect x="332" y="390" width="7" height="132" fill="#d1d2d7"/>
<rect x="328" y="404" width="14" height="32" fill="#d1d2d7"/>
<rect x="348" y="374" width="7" height="92" fill="#d1d2d7"/>
<rect x="344" y="387" width="14" height="26" fill="#d1d2d7"/>
<rect x="364" y="419" width="7" height="103" fill="#d1d2d7"/>
<rect x="360" y="432" width="14" height="34" fill="#d1d2d7"/>
<rect x="380" y="368" width="7" height="154" fill="#d1d2d7"/>
<rect x="376" y="387" width="14" height="49" fill="#d1d2d7"/>
<rect x="396" y="382" width="7" height="140" fill="#d1d2d7"/>
<rect x="392" y="399" width="14" height="50" fill="#d1d2d7"/>
<rect x="412" y="375" width="7" height="147" fill="#d1d2d7"/>
<rect x="408" y="395" width="14" height="56" fill="#d1d2d7"/>
<rect x="427" y="375" width="8" height="137" fill="#d1d2d7"/>
<rect x="424" y="391" width="14" height="47" fill="#d1d2d7"/>
<rect x="443" y="370" width="8" height="128" fill="#d1d2d7"/>
<rect x="440" y="384" width="14" height="48" fill="#d1d2d7"/>
<rect x="459" y="381" width="8" height="96" fill="#d1d2d7"/>
<rect x="456" y="394" width="14" height="51" fill="#d1d2d7"/>
<rect x="475" y="380" width="8" height="142" fill="#d1d2d7"/>
<rect x="472" y="394" width="14" height="52" fill="#d1d2d7"/>
<rect x="491" y="377" width="8" height="89" fill="#d1d2d7"/>
<rect x="488" y="392" width="14" height="42" fill="#d1d2d7"/>
<rect x="507" y="385" width="8" height="129" fill="#d1d2d7"/>
<rect x="504" y="401" width="14" height="34" fill="#d1d2d7"/>
<rect x="523" y="385" width="8" height="137" fill="#d1d2d7"/>
<rect x="520" y="400" width="14" height="27" fill="#d1d2d7"/>
<rect x="539" y="393" width="8" height="129" fill="#d1d2d7"/>
<rect x="536" y="409" width="14" height="28" fill="#d1d2d7"/>
<rect x="555" y="386" width="8" height="93" fill="#d1d2d7"/>
<rect x="552" y="399" width="14" height="28" fill="#d1d2d7"/>
<rect x="571" y="376" width="8" height="114" fill="#d1d2d7"/>
<rect x="568" y="388" width="14" height="36" fill="#d1d2d7"/>
<rect x="587" y="382" width="7" height="125" fill="#d1d2d7"/>
<rect x="584" y="392" width="14" height="30" fill="#d1d2d7"/>
<rect x="603" y="373" width="7" height="149" fill="#d1d2d7"/>
<rect x="600" y="388" width="14" height="48" fill="#d1d2d7"/>
<rect x="619" y="394" width="7" height="128" fill="#d1d2d7"/>
<rect x="616" y="408" width="14" height="48" fill="#d1d2d7"/>
<rect x="635" y="383" width="7" height="121" fill="#d1d2d7"/>
<rect x="632" y="398" width="14" height="50" fill="#d1d2d7"/>
<rect x="651" y="390" width="7" height="132" fill="#d1d2d7"/>
<rect x="647" y="404" width="14" height="38" fill="#d1d2d7"/>
<rect x="667" y="377" width="7" height="145" fill="#d1d2d7"/>
<rect x="663" y="394" width="14" height="38" fill="#d1d2d7"/>
<rect x="683" y="373" width="7" height="149" fill="#d1d2d7"/>
<rect x="679" y="390" width="14" height="42" fill="#d1d2d7"/>
<rect x="699" y="377" width="7" height="145" fill="#d1d2d7"/>
<rect x="695" y="391" width="14" height="45" fill="#d1d2d7"/>
<rect x="715" y="388" width="7" height="106" fill="#d1d2d7"/>
<rect x="711" y="402" width="14" height="28" fill="#d1d2d7"/>
<rect x="89" y="409" width="14" height="3.5" fill="#44ec44"/>
<rect x="105" y="387" width="14" height="3.5" fill="#44ec44"/>
<rect x="121" y="400" width="14" height="3.5" fill="#44ec44"/>
<rect x="137" y="396" width="14" height="3.5" fill="#44ec44"/>
<rect x="153" y="394" width="14" height="3.5" fill="#44ec44"/>
<rect x="169" y="407" width="14" height="3.5" fill="#44ec44"/>
<rect x="185" y="397" width="14" height="3.5" fill="#44ec44"/>
<rect x="201" y="382" width="14" height="3.5" fill="#44ec44"/>
<rect x="217" y="372" width="14" height="3.5" fill="#44ec44"/>
<rect x="233" y="394" width="14" height="3.5" fill="#44ec44"/>
<rect x="249" y="390" width="14" height="3.5" fill="#44ec44"/>
<rect x="265" y="378" width="14" height="3.5" fill="#44ec44"/>
<rect x="281" y="400" width="14" height="3.5" fill="#44ec44"/>
<rect x="297" y="380" width="14" height="3.5" fill="#44ec44"/>
<rect x="312" y="393" width="14" height="3.5" fill="#44ec44"/>
<rect x="328" y="404" width="14" height="3.5" fill="#44ec44"/>
<rect x="344" y="387" width="14" height="3.5" fill="#44ec44"/>
<rect x="360" y="432" width="14" height="3.5" fill="#44ec44"/>
<rect x="376" y="387" width="14" height="3.5" fill="#44ec44"/>
<rect x="392" y="399" width="14" height="3.5" fill="#44ec44"/>
<rect x="408" y="395" width="14" height="3.5" fill="#44ec44"/>
<rect x="424" y="391" width="14" height="3.5" fill="#44ec44"/>
<rect x="440" y="384" width="14" height="3.5" fill="#44ec44"/>
<rect x="456" y="394" width="14" height="3.5" fill="#44ec44"/>
<rect x="472" y="394" width="14" height="3.5" fill="#44ec44"/>
<rect x="488" y="392" width="14" height="3.5" fill="#44ec44"/>
<rect x="504" y="401" width="14" height="3.5" fill="#44ec44"/>
<rect x="520" y="400" width="14" height="3.5" fill="#44ec44"/>
<rect x="536" y="409" width="14" height="3.5" fill="#44ec44"/>
<rect x="552" y="399" width="14" height="3.5" fill="#44ec44"/>
<rect x="568" y="388" width="14" height="3.5" fill="#44ec44"/>
<rect x="584" y="392" width="14" height="3.5" fill="#44ec44"/>
<rect x="600" y="388" width="14" height="3.5" fill="#44ec44"/>
<rect x="616" y="408" width="14" height="3.5" fill="#44ec44"/>
<rect x="632" y="398" width="14" height="3.5" fill="#44ec44"/>
<rect x="647" y="404" width="14" height="3.5" fill="#44ec44"/>
<rect x="663" y="394" width="14" height="3.5" fill="#44ec44"/>
<rect x="679" y="390" width="14" height="3.5" fill="#44ec44"/>
<rect x="695" y="391" width="14" height="3.5" fill="#44ec44"/>
<rect x="711" y="402" width="14" height="3.5" fill="#44ec44"/>
<polyline points="96,446.4 111.95,440.4 127.9,453.6 143.85,437.3 159.8,421 175.75,430.6 191.7,418 207.65,411 223.6,398.6 239.55,421 255.5,421 271.45,413.6 287.4,433.4 303.35,415.6 319.3,428 335.25,436.4 351.2,415.6 367.15,459.6 383.1,423.6 399.05,434 415,430 430.95,427 446.9,427.4 462.85,442.4 478.8,442.4 494.75,438.4 510.7,438.4 526.65,438.4 542.6,451 558.55,443.4 574.5,436 590.45,444.4 606.4,436 622.35,454.4 638.3,448.6 654.25,455.6 670.2,443.4 686.15,443 702.1,444 718.05,452.4" fill="none" stroke="#f0143c" stroke-width="1"/>
<polyline points="96,523.2 111.95,515.6 127.9,523.2 143.85,523.2 159.8,523.2 175.75,486 191.7,471.6 207.65,481.6 223.6,477 239.55,480.2 255.5,493.6 271.45,507.5 287.4,523.2 303.35,523.2 319.3,523.2 335.25,523.2 351.2,523.2 367.15,523.2 383.1,523.2 399.05,523.2 415,523.2 430.95,523.2 446.9,523.2 462.85,523.2 478.8,523.2 494.75,523.2 510.7,523.2 526.65,523.2 542.6,523.2 558.55,523.2 574.5,523.2 590.45,523.2 606.4,523.2 622.35,523.2 638.3,523.2 654.25,523.2 670.2,523.2 686.15,523.2 702.1,523.2 718.05,523.2" fill="none" stroke="#0000ff" stroke-width="1"/>
<polyline points="96,423.6 111.95,408.6 127.9,423.6 143.85,414 159.8,399.6 175.75,410.4 191.7,398 207.65,390 223.6,378.7 239.55,398 255.5,398 271.45,386.2 287.4,408.5 303.35,390 319.3,398.5 335.25,408 351.2,386.5 367.15,430 383.1,391.6 399.05,401 415,397 430.95,393.6 446.9,392.4 462.85,405 478.8,405 494.75,399.6 510.7,405 526.65,405 542.6,419.4 558.55,411 574.5,403 590.45,406 606.4,402 622.35,415.6 638.3,409 654.25,416.6 670.2,405 686.15,403 702.1,404.4 718.05,410.4" fill="none" stroke="#f0143c" stroke-width="1"/>
<polyline points="96,399.4 111.95,386.4 127.9,400.4 143.85,390 159.8,379.4 175.75,392 191.7,379.4 207.65,371.4 223.6,359.6 239.55,381.4 255.5,381.4 271.45,370.8 287.4,392.3 303.35,373.6 319.3,382 335.25,390.4 351.2,371.6 367.15,412.4 383.1,371.5 399.05,382.4 415,377 430.95,374 446.9,371.4 462.85,382.4 478.8,382.4 494.75,377.4 510.7,383 526.65,382.4 542.6,396.6 558.55,389 574.5,381.4 590.45,381.4 606.4,376.6 622.35,392.4 638.3,383 654.25,390.4 670.2,380 686.15,378.6 702.1,379.4 718.05,386.6" fill="none" stroke="#0000ff" stroke-width="1"/>
<polyline points="96,417.6 111.95,405.4 127.9,419.6 143.85,408.1 159.8,396.6 175.75,409.6 191.7,395.3 207.65,388.3 223.6,376.8 239.55,397.2 255.5,397.2 271.45,385.2 287.4,408 303.35,389 319.3,398.4 335.25,407 351.2,388.4 367.15,429.6 383.1,390 399.05,399.6 415,394 430.95,392.4 446.9,390 462.85,401.6 478.8,401.6 494.75,395.6 510.7,402.4 526.65,400.4 542.6,414.4 558.55,408 574.5,399.2 590.45,401 606.4,396 622.35,410 638.3,402.6 654.25,410.4 670.2,399.4 686.15,398 702.1,398 718.05,405" fill="none" stroke="#000000" stroke-width="1"/>
<rect x="96" y="341" width="1" height="1" fill="#505050"/>
<rect x="96" y="347" width="1" height="2" fill="#505050"/>
<rect x="96" y="353" width="1" height="2" fill="#505050"/>
<rect x="96" y="360" width="1" height="1" fill="#505050"/>
<rect x="96" y="366" width="1" height="2" fill="#505050"/>
<rect x="96" y="372" width="1" height="2" fill="#505050"/>
<rect x="96" y="379" width="1" height="1" fill="#505050"/>
<rect x="96" y="385" width="1" height="2" fill="#505050"/>
<rect x="96" y="391" width="1" height="2" fill="#505050"/>
<rect x="96" y="398" width="1" height="1" fill="#505050"/>
<rect x="96" y="404" width="1" height="2" fill="#505050"/>
<rect x="96" y="410" width="1" height="2" fill="#505050"/>
<rect x="96" y="417" width="1" height="1" fill="#505050"/>
<rect x="96" y="423" width="1" height="2" fill="#505050"/>
<rect x="96" y="430" width="1" height="1" fill="#505050"/>
<rect x="96" y="436" width="1" height="1" fill="#505050"/>
<rect x="96" y="442" width="1" height="2" fill="#505050"/>
<rect x="96" y="449" width="1" height="1" fill="#505050"/>
<rect x="96" y="455" width="1" height="1" fill="#505050"/>
<rect x="96" y="461" width="1" height="2" fill="#505050"/>
<rect x="96" y="468" width="1" height="1" fill="#505050"/>
<rect x="96" y="474" width="1" height="1" fill="#505050"/>
<rect x="96" y="480" width="1" height="2" fill="#505050"/>
<rect x="96" y="487" width="1" height="1" fill="#505050"/>
<rect x="96" y="493" width="1" height="1" fill="#505050"/>
<rect x="96" y="499" width="1" height="2" fill="#505050"/>
<rect x="96" y="506" width="1" height="1" fill="#505050"/>
<rect x="96" y="512" width="1" height="1" fill="#505050"/>
<rect x="96" y="518" width="1" height="2" fill="#505050"/>
<rect x="96" y="525" width="1" height="1" fill="#505050"/>
<rect x="96" y="531" width="1" height="1" fill="#505050"/>
<rect x="96" y="537" width="1" height="2" fill="#505050"/>
<rect x="96" y="544" width="1" height="1" fill="#505050"/>
<rect x="175" y="341" width="1" height="1" fill="#505050"/>
<rect x="175" y="347" width="1" height="2" fill="#505050"/>
<rect x="175" y="353" width="1" height="2" fill="#505050"/>
<rect x="175" y="360" width="1" height="1" fill="#505050"/>
<rect x="175" y="366" width="1" height="2" fill="#505050"/>
<rect x="175" y="372" width="1" height="2" fill="#505050"/>
<rect x="175" y="379" width="1" height="1" fill="#505050"/>
<rect x="175" y="385" width="1" height="2" fill="#505050"/>
<rect x="175" y="391" width="1" height="2" fill="#505050"/>
<rect x="175" y="398" width="1" height="1" fill="#505050"/>
<rect x="175" y="404" width="1" height="2" fill="#505050"/>
<rect x="175" y="410" width="1" height="2" fill="#505050"/>
<rect x="175" y="417" width="1" height="1" fill="#505050"/>
<rect x="175" y="423" width="1" height="2" fill="#505050"/>
<rect x="175" y="430" width="1" height="1" fill="#505050"/>
<rect x="175" y="436" width="1" height="1" fill="#505050"/>
<rect x="175" y="442" width="1" height="2" fill="#505050"/>
<rect x="175" y="449" width="1" height="1" fill="#505050"/>
<rect x="175" y="455" width="1" height="1" fill="#505050"/>
<rect x="175" y="461" width="1" height="2" fill="#505050"/>
<rect x="175" y="468" width="1" height="1" fill="#505050"/>
<rect x="175" y="474" width="1" height="1" fill="#505050"/>
<rect x="175" y="480" width="1" height="2" fill="#505050"/>
<rect x="175" y="487" width="1" height="1" fill="#505050"/>
<rect x="175" y="493" width="1" height="1" fill="#505050"/>
<rect x="175" y="499" width="1" height="2" fill="#505050"/>
<rect x="175" y="506" width="1" height="1" fill="#505050"/>
<rect x="175" y="512" width="1" height="1" fill="#505050"/>
<rect x="175" y="518" width="1" height="2" fill="#505050"/>
<rect x="175" y="525" width="1" height="1" fill="#505050"/>
<rect x="175" y="531" width="1" height="1" fill="#505050"/>
<rect x="175" y="537" width="1" height="2" fill="#505050"/>
<rect x="175" y="544" width="1" height="1" fill="#505050"/>
<rect x="255" y="341" width="1" height="1" fill="#505050"/>
<rect x="255" y="347" width="1" height="2" fill="#505050"/>
<rect x="255" y="353" width="1" height="2" fill="#505050"/>
<rect x="255" y="360" width="1" height="1" fill="#505050"/>
<rect x="255" y="366" width="1" height="2" fill="#505050"/>
<rect x="255" y="372" width="1" height="2" fill="#505050"/>
<rect x="255" y="379" width="1" height="1" fill="#505050"/>
<rect x="255" y="385" width="1" height="2" fill="#505050"/>
<rect x="255" y="391" width="1" height="2" fill="#505050"/>
<rect x="255" y="398" width="1" height="1" fill="#505050"/>
<rect x="255" y="404" width="1" height="2" fill="#505050"/>
<rect x="255" y="410" width="1" height="2" fill="#505050"/>
<rect x="255" y="417" width="1" height="1" fill="#505050"/>
<rect x="255" y="423" width="1" height="2" fill="#505050"/>
<rect x="255" y="430" width="1" height="1" fill="#505050"/>
<rect x="255" y="436" width="1" height="1" fill="#505050"/>
<rect x="255" y="442" width="1" height="2" fill="#505050"/>
<rect x="255" y="449" width="1" height="1" fill="#505050"/>
<rect x="255" y="455" width="1" height="1" fill="#505050"/>
<rect x="255" y="461" width="1" height="2" fill="#505050"/>
<rect x="255" y="468" width="1" height="1" fill="#505050"/>
<rect x="255" y="474" width="1" height="1" fill="#505050"/>
<rect x="255" y="480" width="1" height="2" fill="#505050"/>
<rect x="255" y="487" width="1" height="1" fill="#505050"/>
<rect x="255" y="493" width="1" height="1" fill="#505050"/>
<rect x="255" y="499" width="1" height="2" fill="#505050"/>
<rect x="255" y="506" width="1" height="1" fill="#505050"/>
<rect x="255" y="512" width="1" height="1" fill="#505050"/>
<rect x="255" y="518" width="1" height="2" fill="#505050"/>
<rect x="255" y="525" width="1" height="1" fill="#505050"/>
<rect x="255" y="531" width="1" height="1" fill="#505050"/>
<rect x="255" y="537" width="1" height="2" fill="#505050"/>
<rect x="255" y="544" width="1" height="1" fill="#505050"/>
<rect x="335" y="341" width="1" height="1" fill="#505050"/>
<rect x="335" y="347" width="1" height="2" fill="#505050"/>
<rect x="335" y="353" width="1" height="2" fill="#505050"/>
<rect x="335" y="360" width="1" height="1" fill="#505050"/>
<rect x="335" y="366" width="1" height="2" fill="#505050"/>
<rect x="335" y="372" width="1" height="2" fill="#505050"/>
<rect x="335" y="379" width="1" height="1" fill="#505050"/>
<rect x="335" y="385" width="1" height="2" fill="#505050"/>
<rect x="335" y="391" width="1" height="2" fill="#505050"/>
<rect x="335" y="398" width="1" height="1" fill="#505050"/>
<rect x="335" y="404" width="1" height="2" fill="#505050"/>
<rect x="335" y="410" width="1" height="2" fill="#505050"/>
<rect x="335" y="417" width="1" height="1" fill="#505050"/>
<rect x="335" y="423" width="1" height="2" fill="#505050"/>
<rect x="335" y="430" width="1" height="1" fill="#505050"/>
<rect x="335" y="436" width="1" height="1" fill="#505050"/>
<rect x="335" y="442" width="1" height="2" fill="#505050"/>
<rect x="335" y="449" width="1" height="1" fill="#505050"/>
<rect x="335" y="455" width="1" height="1" fill="#505050"/>
<rect x="335" y="461" width="1" height="2" fill="#505050"/>
<rect x="335" y="468" width="1" height="1" fill="#505050"/>
<rect x="335" y="474" width="1" height="1" fill="#505050"/>
<rect x="335" y="480" width="1" height="2" fill="#505050"/>
<rect x="335" y="487" width="1" height="1" fill="#505050"/>
<rect x="335" y="493" width="1" height="1" fill="#505050"/>
<rect x="335" y="499" width="1" height="2" fill="#505050"/>
<rect x="335" y="506" width="1" height="1" fill="#505050"/>
<rect x="335" y="512" width="1" height="1" fill="#505050"/>
<rect x="335" y="518" width="1" height="2" fill="#505050"/>
<rect x="335" y="525" width="1" height="1" fill="#505050"/>
<rect x="335" y="531" width="1" height="1" fill="#505050"/>
<rect x="335" y="537" width="1" height="2" fill="#505050"/>
<rect x="335" y="544" width="1" height="1" fill="#505050"/>
<rect x="415" y="341" width="1" height="1" fill="#505050"/>
<rect x="415" y="347" width="1" height="2" fill="#505050"/>
<rect x="415" y="353" width="1" height="2" fill="#505050"/>
<rect x="415" y="360" width="1" height="1" fill="#505050"/>
<rect x="415" y="366" width="1" height="2" fill="#505050"/>
<rect x="415" y="372" width="1" height="2" fill="#505050"/>
<rect x="415" y="379" width="1" height="1" fill="#505050"/>
<rect x="415" y="385" width="1" height="2" fill="#505050"/>
<rect x="415" y="391" width="1" height="2" fill="#505050"/>
<rect x="415" y="398" width="1" height="1" fill="#505050"/>
<rect x="415" y="404" width="1" height="2" fill="#505050"/>
<rect x="415" y="410" width="1" height="2" fill="#505050"/>
<rect x="415" y="417" width="1" height="1" fill="#505050"/>
<rect x="415" y="423" width="1" height="2" fill="#505050"/>
<rect x="415" y="430" width="1" height="1" fill="#505050"/>
<rect x="415" y="436" width="1" height="1" fill="#505050"/>
<rect x="415" y="442" width="1" height="2" fill="#505050"/>
<rect x="415" y="449" width="1" height="1" fill="#505050"/>
<rect x="415" y="455" width="1" height="1" fill="#505050"/>
<rect x="415" y="461" width="1" height="2" fill="#505050"/>
<rect x="415" y="468" width="1" height="1" fill="#505050"/>
<rect x="415" y="474" width="1" height="1" fill="#505050"/>
<rect x="415" y="480" width="1" height="2" fill="#505050"/>
<rect x="415" y="487" width="1" height="1" fill="#505050"/>
<rect x="415" y="493" width="1" height="1" fill="#505050"/>
<rect x="415" y="499" width="1" height="2" fill="#505050"/>
<rect x="415" y="506" width="1" height="1" fill="#505050"/>
<rect x="415" y="512" width="1" height="1" fill="#505050"/>
<rect x="415" y="518" width="1" height="2" fill="#505050"/>
<rect x="415" y="525" width="1" height="1" fill="#505050"/>
<rect x="415" y="531" width="1" height="1" fill="#505050"/>
<rect x="415" y="537" width="1" height="2" fill="#505050"/>
<rect x="415" y="544" width="1" height="1" fill="#505050"/>
<rect x="494" y="341" width="1" height="1" fill="#505050"/>
<rect x="494" y="347" width="1" height="2" fill="#505050"/>
<rect x="494" y="353" width="1" height="2" fill="#505050"/>
<rect x="494" y="360" width="1" height="1" fill="#505050"/>
<rect x="494" y="366" width="1" height="2" fill="#505050"/>
<rect x="494" y="372" width="1" height="2" fill="#505050"/>
<rect x="494" y="379" width="1" height="1" fill="#505050"/>
<rect x="494" y="385" width="1" height="2" fill="#505050"/>
<rect x="494" y="391" width="1" height="2" fill="#505050"/>
<rect x="494" y="398" width="1" height="1" fill="#505050"/>
<rect x="494" y="404" width="1" height="2" fill="#505050"/>
<rect x="494" y="410" width="1" height="2" fill="#505050"/>
<rect x="494" y="417" width="1" height="1" fill="#505050"/>
<rect x="494" y="423" width="1" height="2" fill="#505050"/>
<rect x="494" y="430" width="1" height="1" fill="#505050"/>
<rect x="494" y="436" width="1" height="1" fill="#505050"/>
<rect x="494" y="442" width="1" height="2" fill="#505050"/>
<rect x="494" y="449" width="1" height="1" fill="#505050"/>
<rect x="494" y="455" width="1" height="1" fill="#505050"/>
<rect x="494" y="461" width="1" height="2" fill="#505050"/>
<rect x="494" y="468" width="1" height="1" fill="#505050"/>
<rect x="494" y="474" width="1" height="1" fill="#505050"/>
<rect x="494" y="480" width="1" height="2" fill="#505050"/>
<rect x="494" y="487" width="1" height="1" fill="#505050"/>
<rect x="494" y="493" width="1" height="1" fill="#505050"/>
<rect x="494" y="499" width="1" height="2" fill="#505050"/>
<rect x="494" y="506" width="1" height="1" fill="#505050"/>
<rect x="494" y="512" width="1" height="1" fill="#505050"/>
<rect x="494" y="518" width="1" height="2" fill="#505050"/>
<rect x="494" y="525" width="1" height="1" fill="#505050"/>
<rect x="494" y="531" width="1" height="1" fill="#505050"/>
<rect x="494" y="537" width="1" height="2" fill="#505050"/>
<rect x="494" y="544" width="1" height="1" fill="#505050"/>
<rect x="574" y="341" width="1" height="1" fill="#505050"/>
<rect x="574" y="347" width="1" height="2" fill="#505050"/>
<rect x="574" y="353" width="1" height="2" fill="#505050"/>
<rect x="574" y="360" width="1" height="1" fill="#505050"/>
<rect x="574" y="366" width="1" height="2" fill="#505050"/>
<rect x="574" y="372" width="1" height="2" fill="#505050"/>
<rect x="574" y="379" width="1" height="1" fill="#505050"/>
<rect x="574" y="385" width="1" height="2" fill="#505050"/>
<rect x="574" y="391" width="1" height="2" fill="#505050"/>
<rect x="574" y="398" width="1" height="1" fill="#505050"/>
<rect x="574" y="404" width="1" height="2" fill="#505050"/>
<rect x="574" y="410" width="1" height="2" fill="#505050"/>
<rect x="574" y="417" width="1" height="1" fill="#505050"/>
<rect x="574" y="423" width="1" height="2" fill="#505050"/>
<rect x="574" y="430" width="1" height="1" fill="#505050"/>
<rect x="574" y="436" width="1" height="1" fill="#505050"/>
<rect x="574" y="442" width="1" height="2" fill="#505050"/>
<rect x="574" y="449" width="1" height="1" fill="#505050"/>
<rect x="574" y="455" width="1" height="1" fill="#505050"/>
<rect x="574" y="461" width="1" height="2" fill="#505050"/>
<rect x="574" y="468" width="1" height="1" fill="#505050"/>
<rect x="574" y="474" width="1" height="1" fill="#505050"/>
<rect x="574" y="480" width="1" height="2" fill="#505050"/>
<rect x="574" y="487" width="1" height="1" fill="#505050"/>
<rect x="574" y="493" width="1" height="1" fill="#505050"/>
<rect x="574" y="499" width="1" height="2" fill="#505050"/>
<rect x="574" y="506" width="1" height="1" fill="#505050"/>
<rect x="574" y="512" width="1" height="1" fill="#505050"/>
<rect x="574" y="518" width="1" height="2" fill="#505050"/>
<rect x="574" y="525" width="1" height="1" fill="#505050"/>
<rect x="574" y="531" width="1" height="1" fill="#505050"/>
<rect x="574" y="537" width="1" height="2" fill="#505050"/>
<rect x="574" y="544" width="1" height="1" fill="#505050"/>
<rect x="654" y="341" width="1" height="1" fill="#505050"/>
<rect x="654" y="347" width="1" height="2" fill="#505050"/>
<rect x="654" y="353" width="1" height="2" fill="#505050"/>
<rect x="654" y="360" width="1" height="1" fill="#505050"/>
<rect x="654" y="366" width="1" height="2" fill="#505050"/>
<rect x="654" y="372" width="1" height="2" fill="#505050"/>
<rect x="654" y="379" width="1" height="1" fill="#505050"/>
<rect x="654" y="385" width="1" height="2" fill="#505050"/>
<rect x="654" y="391" width="1" height="2" fill="#505050"/>
<rect x="654" y="398" width="1" height="1" fill="#505050"/>
<rect x="654" y="404" width="1" height="2" fill="#505050"/>
<rect x="654" y="410" width="1" height="2" fill="#505050"/>
<rect x="654" y="417" width="1" height="1" fill="#505050"/>
<rect x="654" y="423" width="1" height="2" fill="#505050"/>
<rect x="654" y="430" width="1" height="1" fill="#505050"/>
<rect x="654" y="436" width="1" height="1" fill="#505050"/>
<rect x="654" y="442" width="1" height="2" fill="#505050"/>
<rect x="654" y="449" width="1" height="1" fill="#505050"/>
<rect x="654" y="455" width="1" height="1" fill="#505050"/>
<rect x="654" y="461" width="1" height="2" fill="#505050"/>
<rect x="654" y="468" width="1" height="1" fill="#505050"/>
<rect x="654" y="474" width="1" height="1" fill="#505050"/>
<rect x="654" y="480" width="1" height="2" fill="#505050"/>
<rect x="654" y="487" width="1" height="1" fill="#505050"/>
<rect x="654" y="493" width="1" height="1" fill="#505050"/>
<rect x="654" y="499" width="1" height="2" fill="#505050"/>
<rect x="654" y="506" width="1" height="1" fill="#505050"/>
<rect x="654" y="512" width="1" height="1" fill="#505050"/>
<rect x="654" y="518" width="1" height="2" fill="#505050"/>
<rect x="654" y="525" width="1" height="1" fill="#505050"/>
<rect x="654" y="531" width="1" height="1" fill="#505050"/>
<rect x="654" y="537" width="1" height="2" fill="#505050"/>
<rect x="654" y="544" width="1" height="1" fill="#505050"/>
<rect x="86" y="353" width="2" height="1" fill="#505050"/>
<rect x="93" y="353" width="1" height="1" fill="#505050"/>
<rect x="99" y="353" width="2" height="1" fill="#505050"/>
<rect x="106" y="353" width="1" height="1" fill="#505050"/>
<rect x="112" y="353" width="2" height="1" fill="#505050"/>
<rect x="119" y="353" width="1" height="1" fill="#505050"/>
<rect x="126" y="353" width="1" height="1" fill="#505050"/>
<rect x="132" y="353" width="2" height="1" fill="#505050"/>
<rect x="139" y="353" width="1" height="1" fill="#505050"/>
<rect x="145" y="353" width="2" height="1" fill="#505050"/>
<rect x="152" y="353" width="1" height="1" fill="#505050"/>
<rect x="158" y="353" width="2" height="1" fill="#505050"/>
<rect x="165" y="353" width="1" height="1" fill="#505050"/>
<rect x="171" y="353" width="2" height="1" fill="#505050"/>
<rect x="178" y="353" width="1" height="1" fill="#505050"/>
<rect x="184" y="353" width="2" height="1" fill="#505050"/>
<rect x="191" y="353" width="1" height="1" fill="#505050"/>
<rect x="197" y="353" width="2" height="1" fill="#505050"/>
<rect x="204" y="353" width="2" height="1" fill="#505050"/>
<rect x="211" y="353" width="1" height="1" fill="#505050"/>
<rect x="217" y="353" width="2" height="1" fill="#505050"/>
<rect x="224" y="353" width="1" height="1" fill="#505050"/>
<rect x="230" y="353" width="2" height="1" fill="#505050"/>
<rect x="237" y="353" width="1" height="1" fill="#505050"/>
<rect x="243" y="353" width="2" height="1" fill="#505050"/>
<rect x="250" y="353" width="1" height="1" fill="#505050"/>
<rect x="256" y="353" width="2" height="1" fill="#505050"/>
<rect x="263" y="353" width="1" height="1" fill="#505050"/>
<rect x="269" y="353" width="2" height="1" fill="#505050"/>
<rect x="276" y="353" width="1" height="1" fill="#505050"/>
<rect x="283" y="353" width="1" height="1" fill="#505050"/>
<rect x="289" y="353" width="2" height="1" fill="#505050"/>
<rect x="296" y="353" width="1" height="1" fill="#505050"/>
<rect x="302" y="353" width="2" height="1" fill="#505050"/>
<rect x="309" y="353" width="1" height="1" fill="#505050"/>
<rect x="315" y="353" width="2" height="1" fill="#505050"/>
<rect x="322" y="353" width="1" height="1" fill="#505050"/>
<rect x="328" y="353" width="2" height="1" fill="#505050"/>
<rect x="335" y="353" width="1" height="1" fill="#505050"/>
<rect x="341" y="353" width="2" height="1" fill="#505050"/>
<rect x="348" y="353" width="1" height="1" fill="#505050"/>
<rect x="355" y="353" width="1" height="1" fill="#505050"/>
<rect x="361" y="353" width="2" height="1" fill="#505050"/>
<rect x="368" y="353" width="1" height="1" fill="#505050"/>
<rect x="374" y="353" width="2" height="1" fill="#505050"/>
<rect x="381" y="353" width="1" height="1" fill="#505050"/>
<rect x="387" y="353" width="2" height="1" fill="#505050"/>
<rect x="394" y="353" width="1" height="1" fill="#505050"/>
<rect x="400" y="353" width="2" height="1" fill="#505050"/>
<rect x="407" y="353" width="1" height="1" fill="#505050"/>
<rect x="413" y="353" width="2" height="1" fill="#505050"/>
<rect x="420" y="353" width="1" height="1" fill="#505050"/>
<rect x="426" y="353" width="2" height="1" fill="#505050"/>
<rect x="433" y="353" width="2" height="1" fill="#505050"/>
<rect x="440" y="353" width="1" height="1" fill="#505050"/>
<rect x="446" y="353" width="2" height="1" fill="#505050"/>
<rect x="453" y="353" width="1" height="1" fill="#505050"/>
<rect x="459" y="353" width="2" height="1" fill="#505050"/>
<rect x="466" y="353" width="1" height="1" fill="#505050"/>
<rect x="472" y="353" width="2" height="1" fill="#505050"/>
<rect x="479" y="353" width="1" height="1" fill="#505050"/>
<rect x="485" y="353" width="2" height="1" fill="#505050"/>
<rect x="492" y="353" width="1" height="1" fill="#505050"/>
<rect x="498" y="353" width="2" height="1" fill="#505050"/>
<rect x="505" y="353" width="2" height="1" fill="#505050"/>
<rect x="512" y="353" width="1" height="1" fill="#505050"/>
<rect x="518" y="353" width="2" height="1" fill="#505050"/>
<rect x="525" y="353" width="1" height="1" fill="#505050"/>
<rect x="531" y="353" width="2" height="1" fill="#505050"/>
<rect x="538" y="353" width="1" height="1" fill="#505050"/>
<rect x="544" y="353" width="2" height="1" fill="#505050"/>
<rect x="551" y="353" width="1" height="1" fill="#505050"/>
<rect x="557" y="353" width="2" height="1" fill="#505050"/>
<rect x="564" y="353" width="1" height="1" fill="#505050"/>
<rect x="570" y="353" width="2" height="1" fill="#505050"/>
<rect x="577" y="353" width="1" height="1" fill="#505050"/>
<rect x="584" y="353" width="1" height="1" fill="#505050"/>
<rect x="590" y="353" width="2" height="1" fill="#505050"/>
<rect x="597" y="353" width="1" height="1" fill="#505050"/>
<rect x="603" y="353" width="2" height="1" fill="#505050"/>
<rect x="610" y="353" width="1" height="1" fill="#505050"/>
<rect x="616" y="353" width="2" height="1" fill="#505050"/>
<rect x="623" y="353" width="1" height="1" fill="#505050"/>
<rect x="629" y="353" width="2" height="1" fill="#505050"/>
<rect x="636" y="353" width="1" height="1" fill="#505050"/>
<rect x="642" y="353" width="2" height="1" fill="#505050"/>
<rect x="649" y="353" width="1" height="1" fill="#505050"/>
<rect x="655" y="353" width="2" height="1" fill="#505050"/>
<rect x="662" y="353" width="2" height="1" fill="#505050"/>
<rect x="669" y="353" width="1" height="1" fill="#505050"/>
<rect x="675" y="353" width="2" height="1" fill="#505050"/>
<rect x="682" y="353" width="1" height="1" fill="#505050"/>
<rect x="688" y="353" width="2" height="1" fill="#505050"/>
<rect x="695" y="353" width="1" height="1" fill="#505050"/>
<rect x="701" y="353" width="2" height="1" fill="#505050"/>
<rect x="708" y="353" width="1" height="1" fill="#505050"/>
<rect x="714" y="353" width="2" height="1" fill="#505050"/>
<rect x="721" y="353" width="1" height="1" fill="#505050"/>
<rect x="727" y="353" width="2" height="1" fill="#505050"/>
<rect x="86" y="382" width="2" height="1" fill="#505050"/>
<rect x="93" y="382" width="1" height="1" fill="#505050"/>
<rect x="99" y="382" width="2" height="1" fill="#505050"/>
<rect x="106" y="382" width="1" height="1" fill="#505050"/>
<rect x="112" y="382" width="2" height="1" fill="#505050"/>
<rect x="119" y="382" width="1" height="1" fill="#505050"/>
<rect x="126" y="382" width="1" height="1" fill="#505050"/>
<rect x="132" y="382" width="2" height="1" fill="#505050"/>
<rect x="139" y="382" width="1" height="1" fill="#505050"/>
<rect x="145" y="382" width="2" height="1" fill="#505050"/>
<rect x="152" y="382" width="1" height="1" fill="#505050"/>
<rect x="158" y="382" width="2" height="1" fill="#505050"/>
<rect x="165" y="382" width="1" height="1" fill="#505050"/>
<rect x="171" y="382" width="2" height="1" fill="#505050"/>
<rect x="178" y="382" width="1" height="1" fill="#505050"/>
<rect x="184" y="382" width="2" height="1" fill="#505050"/>
<rect x="191" y="382" width="1" height="1" fill="#505050"/>
<rect x="197" y="382" width="2" height="1" fill="#505050"/>
<rect x="204" y="382" width="2" height="1" fill="#505050"/>
<rect x="211" y="382" width="1" height="1" fill="#505050"/>
<rect x="217" y="382" width="2" height="1" fill="#505050"/>
<rect x="224" y="382" width="1" height="1" fill="#505050"/>
<rect x="230" y="382" width="2" height="1" fill="#505050"/>
<rect x="237" y="382" width="1" height="1" fill="#505050"/>
<rect x="243" y="382" width="2" height="1" fill="#505050"/>
<rect x="250" y="382" width="1" height="1" fill="#505050"/>
<rect x="256" y="382" width="2" height="1" fill="#505050"/>
<rect x="263" y="382" width="1" height="1" fill="#505050"/>
<rect x="269" y="382" width="2" height="1" fill="#505050"/>
<rect x="276" y="382" width="1" height="1" fill="#505050"/>
<rect x="283" y="382" width="1" height="1" fill="#505050"/>
<rect x="289" y="382" width="2" height="1" fill="#505050"/>
<rect x="296" y="382" width="1" height="1" fill="#505050"/>
<rect x="302" y="382" width="2" height="1" fill="#505050"/>
<rect x="309" y="382" width="1" height="1" fill="#505050"/>
<rect x="315" y="382" width="2" height="1" fill="#505050"/>
<rect x="322" y="382" width="1" height="1" fill="#505050"/>
<rect x="328" y="382" width="2" height="1" fill="#505050"/>
<rect x="335" y="382" width="1" height="1" fill="#505050"/>
<rect x="341" y="382" width="2" height="1" fill="#505050"/>
<rect x="348" y="382" width="1" height="1" fill="#505050"/>
<rect x="355" y="382" width="1" height="1" fill="#505050"/>
<rect x="361" y="382" width="2" height="1" fill="#505050"/>
<rect x="368" y="382" width="1" height="1" fill="#505050"/>
<rect x="374" y="382" width="2" height="1" fill="#505050"/>
<rect x="381" y="382" width="1" height="1" fill="#505050"/>
<rect x="387" y="382" width="2" height="1" fill="#505050"/>
<rect x="394" y="382" width="1" height="1" fill="#505050"/>
<rect x="400" y="382" width="2" height="1" fill="#505050"/>
<rect x="407" y="382" width="1" height="1" fill="#505050"/>
<rect x="413" y="382" width="2" height="1" fill="#505050"/>
<rect x="420" y="382" width="1" height="1" fill="#505050"/>
<rect x="426" y="382" width="2" height="1" fill="#505050"/>
<rect x="433" y="382" width="2" height="1" fill="#505050"/>
<rect x="440" y="382" width="1" height="1" fill="#505050"/>
<rect x="446" y="382" width="2" height="1" fill="#505050"/>
<rect x="453" y="382" width="1" height="1" fill="#505050"/>
<rect x="459" y="382" width="2" height="1" fill="#505050"/>
<rect x="466" y="382" width="1" height="1" fill="#505050"/>
<rect x="472" y="382" width="2" height="1" fill="#505050"/>
<rect x="479" y="382" width="1" height="1" fill="#505050"/>
<rect x="485" y="382" width="2" height="1" fill="#505050"/>
<rect x="492" y="382" width="1" height="1" fill="#505050"/>
<rect x="498" y="382" width="2" height="1" fill="#505050"/>
<rect x="505" y="382" width="2" height="1" fill="#505050"/>
<rect x="512" y="382" width="1" height="1" fill="#505050"/>
<rect x="518" y="382" width="2" height="1" fill="#505050"/>
<rect x="525" y="382" width="1" height="1" fill="#505050"/>
<rect x="531" y="382" width="2" height="1" fill="#505050"/>
<rect x="538" y="382" width="1" height="1" fill="#505050"/>
<rect x="544" y="382" width="2" height="1" fill="#505050"/>
<rect x="551" y="382" width="1" height="1" fill="#505050"/>
<rect x="557" y="382" width="2" height="1" fill="#505050"/>
<rect x="564" y="382" width="1" height="1" fill="#505050"/>
<rect x="570" y="382" width="2" height="1" fill="#505050"/>
<rect x="577" y="382" width="1" height="1" fill="#505050"/>
<rect x="584" y="382" width="1" height="1" fill="#505050"/>
<rect x="590" y="382" width="2" height="1" fill="#505050"/>
<rect x="597" y="382" width="1" height="1" fill="#505050"/>
<rect x="603" y="382" width="2" height="1" fill="#505050"/>
<rect x="610" y="382" width="1" height="1" fill="#505050"/>
<rect x="616" y="382" width="2" height="1" fill="#505050"/>
<rect x="623" y="382" width="1" height="1" fill="#505050"/>
<rect x="629" y="382" width="2" height="1" fill="#505050"/>
<rect x="636" y="382" width="1" height="1" fill="#505050"/>
<rect x="642" y="382" width="2" height="1" fill="#505050"/>
<rect x="649" y="382" width="1" height="1" fill="#505050"/>
<rect x="655" y="382" width="2" height="1" fill="#505050"/>
<rect x="662" y="382" width="2" height="1" fill="#505050"/>
<rect x="669" y="382" width="1" height="1" fill="#505050"/>
<rect x="675" y="382" width="2" height="1" fill="#505050"/>
<rect x="682" y="382" width="1" height="1" fill="#505050"/>
<rect x="688" y="382" width="2" height="1" fill="#505050"/>
<rect x="695" y="382" width="1" height="1" fill="#505050"/>
<rect x="701" y="382" width="2" height="1" fill="#505050"/>
<rect x="708" y="382" width="1" height="1" fill="#505050"/>
<rect x="714" y="382" width="2" height="1" fill="#505050"/>
<rect x="721" y="382" width="1" height="1" fill="#505050"/>
<rect x="727" y="382" width="2" height="1" fill="#505050"/>
<rect x="86" y="410" width="2" height="1" fill="#505050"/>
<rect x="93" y="410" width="1" height="1" fill="#505050"/>
<rect x="99" y="410" width="2" height="1" fill="#505050"/>
<rect x="106" y="410" width="1" height="1" fill="#505050"/>
<rect x="112" y="410" width="2" height="1" fill="#505050"/>
<rect x="119" y="410" width="1" height="1" fill="#505050"/>
<rect x="126" y="410" width="1" height="1" fill="#505050"/>
<rect x="132" y="410" width="2" height="1" fill="#505050"/>
<rect x="139" y="410" width="1" height="1" fill="#505050"/>
<rect x="145" y="410" width="2" height="1" fill="#505050"/>
<rect x="152" y="410" width="1" height="1" fill="#505050"/>
<rect x="158" y="410" width="2" height="1" fill="#505050"/>
<rect x="165" y="410" width="1" height="1" fill="#505050"/>
<rect x="171" y="410" width="2" height="1" fill="#505050"/>
<rect x="178" y="410" width="1" height="1" fill="#505050"/>
<rect x="184" y="410" width="2" height="1" fill="#505050"/>
<rect x="191" y="410" width="1" height="1" fill="#505050"/>
<rect x="197" y="410" width="2" height="1" fill="#505050"/>
<rect x="204" y="410" width="2" height="1" fill="#505050"/>
<rect x="211" y="410" width="1" height="1" fill="#505050"/>
<rect x="217" y="410" width="2" height="1" fill="#505050"/>
<rect x="224" y="410" width="1" height="1" fill="#505050"/>
<rect x="230" y="410" width="2" height="1" fill="#505050"/>
<rect x="237" y="410" width="1" height="1" fill="#505050"/>
<rect x="243" y="410" width="2" height="1" fill="#505050"/>
<rect x="250" y="410" width="1" height="1" fill="#505050"/>
<rect x="256" y="410" width="2" height="1" fill="#505050"/>
<rect x="263" y="410" width="1" height="1" fill="#505050"/>
<rect x="269" y="410" width="2" height="1" fill="#505050"/>
<rect x="276" y="410" width="1" height="1" fill="#505050"/>
<rect x="283" y="410" width="1" height="1" fill="#505050"/>
<rect x="289" y="410" width="2" height="1" fill="#505050"/>
<rect x="296" y="410" width="1" height="1" fill="#505050"/>
<rect x="302" y="410" width="2" height="1" fill="#505050"/>
<rect x="309" y="410" width="1" height="1" fill="#505050"/>
<rect x="315" y="410" width="2" height="1" fill="#505050"/>
<rect x="322" y="410" width="1" height="1" fill="#505050"/>
<rect x="328" y="410" width="2" height="1" fill="#505050"/>
<rect x="335" y="410" width="1" height="1" fill="#505050"/>
<rect x="341" y="410" width="2" height="1" fill="#505050"/>
<rect x="348" y="410" width="1" height="1" fill="#505050"/>
<rect x="355" y="410" width="1" height="1" fill="#505050"/>
<rect x="361" y="410" width="2" height="1" fill="#505050"/>
<rect x="368" y="410" width="1" height="1" fill="#505050"/>
<rect x="374" y="410" width="2" height="1" fill="#505050"/>
<rect x="381" y="410" width="1" height="1" fill="#505050"/>
<rect x="387" y="410" width="2" height="1" fill="#505050"/>
<rect x="394" y="410" width="1" height="1" fill="#505050"/>
<rect x="400" y="410" width="2" height="1" fill="#505050"/>
<rect x="407" y="410" width="1" height="1" fill="#505050"/>
<rect x="413" y="410" width="2" height="1" fill="#505050"/>
<rect x="420" y="410" width="1" height="1" fill="#505050"/>
<rect x="426" y="410" width="2" height="1" fill="#505050"/>
<rect x="433" y="410" width="2" height="1" fill="#505050"/>
<rect x="440" y="410" width="1" height="1" fill="#505050"/>
<rect x="446" y="410" width="2" height="1" fill="#505050"/>
<rect x="453" y="410" width="1" height="1" fill="#505050"/>
<rect x="459" y="410" width="2" height="1" fill="#505050"/>
<rect x="466" y="410" width="1" height="1" fill="#505050"/>
<rect x="472" y="410" width="2" height="1" fill="#505050"/>
<rect x="479" y="410" width="1" height="1" fill="#505050"/>
<rect x="485" y="410" width="2" height="1" fill="#505050"/>
<rect x="492" y="410" width="1" height="1" fill="#505050"/>
<rect x="498" y="410" width="2" height="1" fill="#505050"/>
<rect x="505" y="410" width="2" height="1" fill="#505050"/>
<rect x="512" y="410" width="1" height="1" fill="#505050"/>
<rect x="518" y="410" width="2" height="1" fill="#505050"/>
<rect x="525" y="410" width="1" height="1" fill="#505050"/>
<rect x="531" y="410" width="2" height="1" fill="#505050"/>
<rect x="538" y="410" width="1" height="1" fill="#505050"/>
<rect x="544" y="410" width="2" height="1" fill="#505050"/>
<rect x="551" y="410" width="1" height="1" fill="#505050"/>
<rect x="557" y="410" width="2" height="1" fill="#505050"/>
<rect x="564" y="410" width="1" height="1" fill="#505050"/>
<rect x="570" y="410" width="2" height="1" fill="#505050"/>
<rect x="577" y="410" width="1" height="1" fill="#505050"/>
<rect x="584" y="410" width="1" height="1" fill="#505050"/>
<rect x="590" y="410" width="2" height="1" fill="#505050"/>
<rect x="597" y="410" width="1" height="1" fill="#505050"/>
<rect x="603" y="410" width="2" height="1" fill="#505050"/>
<rect x="610" y="410" width="1" height="1" fill="#505050"/>
<rect x="616" y="410" width="2" height="1" fill="#505050"/>
<rect x="623" y="410" width="1" height="1" fill="#505050"/>
<rect x="629" y="410" width="2" height="1" fill="#505050"/>
<rect x="636" y="410" width="1" height="1" fill="#505050"/>
<rect x="642" y="410" width="2" height="1" fill="#505050"/>
<rect x="649" y="410" width="1" height="1" fill="#505050"/>
<rect x="655" y="410" width="2" height="1" fill="#505050"/>
<rect x="662" y="410" width="2" height="1" fill="#505050"/>
<rect x="669" y="410" width="1" height="1" fill="#505050"/>
<rect x="675" y="410" width="2" height="1" fill="#505050"/>
<rect x="682" y="410" width="1" height="1" fill="#505050"/>
<rect x="688" y="410" width="2" height="1" fill="#505050"/>
<rect x="695" y="410" width="1" height="1" fill="#505050"/>
<rect x="701" y="410" width="2" height="1" fill="#505050"/>
<rect x="708" y="410" width="1" height="1" fill="#505050"/>
<rect x="714" y="410" width="2" height="1" fill="#505050"/>
<rect x="721" y="410" width="1" height="1" fill="#505050"/>
<rect x="727" y="410" width="2" height="1" fill="#505050"/>
<rect x="86" y="438" width="2" height="1" fill="#505050"/>
<rect x="93" y="438" width="1" height="1" fill="#505050"/>
<rect x="99" y="438" width="2" height="1" fill="#505050"/>
<rect x="106" y="438" width="1" height="1" fill="#505050"/>
<rect x="112" y="438" width="2" height="1" fill="#505050"/>
<rect x="119" y="438" width="1" height="1" fill="#505050"/>
<rect x="126" y="438" width="1" height="1" fill="#505050"/>
<rect x="132" y="438" width="2" height="1" fill="#505050"/>
<rect x="139" y="438" width="1" height="1" fill="#505050"/>
<rect x="145" y="438" width="2" height="1" fill="#505050"/>
<rect x="152" y="438" width="1" height="1" fill="#505050"/>
<rect x="158" y="438" width="2" height="1" fill="#505050"/>
<rect x="165" y="438" width="1" height="1" fill="#505050"/>
<rect x="171" y="438" width="2" height="1" fill="#505050"/>
<rect x="178" y="438" width="1" height="1" fill="#505050"/>
<rect x="184" y="438" width="2" height="1" fill="#505050"/>
<rect x="191" y="438" width="1" height="1" fill="#505050"/>
<rect x="197" y="438" width="2" height="1" fill="#505050"/>
<rect x="204" y="438" width="2" height="1" fill="#505050"/>
<rect x="211" y="438" width="1" height="1" fill="#505050"/>
<rect x="217" y="438" width="2" height="1" fill="#505050"/>
<rect x="224" y="438" width="1" height="1" fill="#505050"/>
<rect x="230" y="438" width="2" height="1" fill="#505050"/>
<rect x="237" y="438" width="1" height="1" fill="#505050"/>
<rect x="243" y="438" width="2" height="1" fill="#505050"/>
<rect x="250" y="438" width="1" height="1" fill="#505050"/>
<rect x="256" y="438" width="2" height="1" fill="#505050"/>
<rect x="263" y="438" width="1" height="1" fill="#505050"/>
<rect x="269" y="438" width="2" height="1" fill="#505050"/>
<rect x="276" y="438" width="1" height="1" fill="#505050"/>
<rect x="283" y="438" width="1" height="1" fill="#505050"/>
<rect x="289" y="438" width="2" height="1" fill="#505050"/>
<rect x="296" y="438" width="1" height="1" fill="#505050"/>
<rect x="302" y="438" width="2" height="1" fill="#505050"/>
<rect x="309" y="438" width="1" height="1" fill="#505050"/>
<rect x="315" y="438" width="2" height="1" fill="#505050"/>
<rect x="322" y="438" width="1" height="1" fill="#505050"/>
<rect x="328" y="438" width="2" height="1" fill="#505050"/>
<rect x="335" y="438" width="1" height="1" fill="#505050"/>
<rect x="341" y="438" width="2" height="1" fill="#505050"/>
<rect x="348" y="438" width="1" height="1" fill="#505050"/>
<rect x="355" y="438" width="1" height="1" fill="#505050"/>
<rect x="361" y="438" width="2" height="1" fill="#505050"/>
<rect x="368" y="438" width="1" height="1" fill="#505050"/>
<rect x="374" y="438" width="2" height="1" fill="#505050"/>
<rect x="381" y="438" width="1" height="1" fill="#505050"/>
<rect x="387" y="438" width="2" height="1" fill="#505050"/>
<rect x="394" y="438" width="1" height="1" fill="#505050"/>
<rect x="400" y="438" width="2" height="1" fill="#505050"/>
<rect x="407" y="438" width="1" height="1" fill="#505050"/>
<rect x="413" y="438" width="2" height="1" fill="#505050"/>
<rect x="420" y="438" width="1" height="1" fill="#505050"/>
<rect x="426" y="438" width="2" height="1" fill="#505050"/>
<rect x="433" y="438" width="2" height="1" fill="#505050"/>
<rect x="440" y="438" width="1" height="1" fill="#505050"/>
<rect x="446" y="438" width="2" height="1" fill="#505050"/>
<rect x="453" y="438" width="1" height="1" fill="#505050"/>
<rect x="459" y="438" width="2" height="1" fill="#505050"/>
<rect x="466" y="438" width="1" height="1" fill="#505050"/>
<rect x="472" y="438" width="2" height="1" fill="#505050"/>
<rect x="479" y="438" width="1" height="1" fill="#505050"/>
<rect x="485" y="438" width="2" height="1" fill="#505050"/>
<rect x="492" y="438" width="1" height="1" fill="#505050"/>
<rect x="498" y="438" width="2" height="1" fill="#505050"/>
<rect x="505" y="438" width="2" height="1" fill="#505050"/>
<rect x="512" y="438" width="1" height="1" fill="#505050"/>
<rect x="518" y="438" width="2" height="1" fill="#505050"/>
<rect x="525" y="438" width="1" height="1" fill="#505050"/>
<rect x="531" y="438" width="2" height="1" fill="#505050"/>
<rect x="538" y="438" width="1" height="1" fill="#505050"/>
<rect x="544" y="438" width="2" height="1" fill="#505050"/>
<rect x="551" y="438" width="1" height="1" fill="#505050"/>
<rect x="557" y="438" width="2" height="1" fill="#505050"/>
<rect x="564" y="438" width="1" height="1" fill="#505050"/>
<rect x="570" y="438" width="2" height="1" fill="#505050"/>
<rect x="577" y="438" width="1" height="1" fill="#505050"/>
<rect x="584" y="438" width="1" height="1" fill="#505050"/>
<rect x="590" y="438" width="2" height="1" fill="#505050"/>
<rect x="597" y="438" width="1" height="1" fill="#505050"/>
<rect x="603" y="438" width="2" height="1" fill="#505050"/>
<rect x="610" y="438" width="1" height="1" fill="#505050"/>
<rect x="616" y="438" width="2" height="1" fill="#505050"/>
<rect x="623" y="438" width="1" height="1" fill="#505050"/>
<rect x="629" y="438" width="2" height="1" fill="#505050"/>
<rect x="636" y="438" width="1" height="1" fill="#505050"/>
<rect x="642" y="438" width="2" height="1" fill="#505050"/>
<rect x="649" y="438" width="1" height="1" fill="#505050"/>
<rect x="655" y="438" width="2" height="1" fill="#505050"/>
<rect x="662" y="438" width="2" height="1" fill="#505050"/>
<rect x="669" y="438" width="1" height="1" fill="#505050"/>
<rect x="675" y="438" width="2" height="1" fill="#505050"/>
<rect x="682" y="438" width="1" height="1" fill="#505050"/>
<rect x="688" y="438" width="2" height="1" fill="#505050"/>
<rect x="695" y="438" width="1" height="1" fill="#505050"/>
<rect x="701" y="438" width="2" height="1" fill="#505050"/>
<rect x="708" y="438" width="1" height="1" fill="#505050"/>
<rect x="714" y="438" width="2" height="1" fill="#505050"/>
<rect x="721" y="438" width="1" height="1" fill="#505050"/>
<rect x="727" y="438" width="2" height="1" fill="#505050"/>
<rect x="86" y="466" width="2" height="1" fill="#505050"/>
<rect x="93" y="466" width="1" height="1" fill="#505050"/>
<rect x="99" y="466" width="2" height="1" fill="#505050"/>
<rect x="106" y="466" width="1" height="1" fill="#505050"/>
<rect x="112" y="466" width="2" height="1" fill="#505050"/>
<rect x="119" y="466" width="1" height="1" fill="#505050"/>
<rect x="126" y="466" width="1" height="1" fill="#505050"/>
<rect x="132" y="466" width="2" height="1" fill="#505050"/>
<rect x="139" y="466" width="1" height="1" fill="#505050"/>
<rect x="145" y="466" width="2" height="1" fill="#505050"/>
<rect x="152" y="466" width="1" height="1" fill="#505050"/>
<rect x="158" y="466" width="2" height="1" fill="#505050"/>
<rect x="165" y="466" width="1" height="1" fill="#505050"/>
<rect x="171" y="466" width="2" height="1" fill="#505050"/>
<rect x="178" y="466" width="1" height="1" fill="#505050"/>
<rect x="184" y="466" width="2" height="1" fill="#505050"/>
<rect x="191" y="466" width="1" height="1" fill="#505050"/>
<rect x="197" y="466" width="2" height="1" fill="#505050"/>
<rect x="204" y="466" width="2" height="1" fill="#505050"/>
<rect x="211" y="466" width="1" height="1" fill="#505050"/>
<rect x="217" y="466" width="2" height="1" fill="#505050"/>
<rect x="224" y="466" width="1" height="1" fill="#505050"/>
<rect x="230" y="466" width="2" height="1" fill="#505050"/>
<rect x="237" y="466" width="1" height="1" fill="#505050"/>
<rect x="243" y="466" width="2" height="1" fill="#505050"/>
<rect x="250" y="466" width="1" height="1" fill="#505050"/>
<rect x="256" y="466" width="2" height="1" fill="#505050"/>
<rect x="263" y="466" width="1" height="1" fill="#505050"/>
<rect x="269" y="466" width="2" height="1" fill="#505050"/>
<rect x="276" y="466" width="1" height="1" fill="#505050"/>
<rect x="283" y="466" width="1" height="1" fill="#505050"/>
<rect x="289" y="466" width="2" height="1" fill="#505050"/>
<rect x="296" y="466" width="1" height="1" fill="#505050"/>
<rect x="302" y="466" width="2" height="1" fill="#505050"/>
<rect x="309" y="466" width="1" height="1" fill="#505050"/>
<rect x="315" y="466" width="2" height="1" fill="#505050"/>
<rect x="322" y="466" width="1" height="1" fill="#505050"/>
<rect x="328" y="466" width="2" height="1" fill="#505050"/>
<rect x="335" y="466" width="1" height="1" fill="#505050"/>
<rect x="341" y="466" width="2" height="1" fill="#505050"/>
<rect x="348" y="466" width="1" height="1" fill="#505050"/>
<rect x="355" y="466" width="1" height="1" fill="#505050"/>
<rect x="361" y="466" width="2" height="1" fill="#505050"/>
<rect x="368" y="466" width="1" height="1" fill="#505050"/>
<rect x="374" y="466" width="2" height="1" fill="#505050"/>
<rect x="381" y="466" width="1" height="1" fill="#505050"/>
<rect x="387" y="466" width="2" height="1" fill="#505050"/>
<rect x="394" y="466" width="1" height="1" fill="#505050"/>
<rect x="400" y="466" width="2" height="1" fill="#505050"/>
<rect x="407" y="466" width="1" height="1" fill="#505050"/>
<rect x="413" y="466" width="2" height="1" fill="#505050"/>
<rect x="420" y="466" width="1" height="1" fill="#505050"/>
<rect x="426" y="466" width="2" height="1" fill="#505050"/>
<rect x="433" y="466" width="2" height="1" fill="#505050"/>
<rect x="440" y="466" width="1" height="1" fill="#505050"/>
<rect x="446" y="466" width="2" height="1" fill="#505050"/>
<rect x="453" y="466" width="1" height="1" fill="#505050"/>
<rect x="459" y="466" width="2" height="1" fill="#505050"/>
<rect x="466" y="466" width="1" height="1" fill="#505050"/>
<rect x="472" y="466" width="2" height="1" fill="#505050"/>
<rect x="479" y="466" width="1" height="1" fill="#505050"/>
<rect x="485" y="466" width="2" height="1" fill="#505050"/>
<rect x="492" y="466" width="1" height="1" fill="#505050"/>
<rect x="498" y="466" width="2" height="1" fill="#505050"/>
<rect x="505" y="466" width="2" height="1" fill="#505050"/>
<rect x="512" y="466" width="1" height="1" fill="#505050"/>
<rect x="518" y="466" width="2" height="1" fill="#505050"/>
<rect x="525" y="466" width="1" height="1" fill="#505050"/>
<rect x="531" y="466" width="2" height="1" fill="#505050"/>
<rect x="538" y="466" width="1" height="1" fill="#505050"/>
<rect x="544" y="466" width="2" height="1" fill="#505050"/>
<rect x="551" y="466" width="1" height="1" fill="#505050"/>
<rect x="557" y="466" width="2" height="1" fill="#505050"/>
<rect x="564" y="466" width="1" height="1" fill="#505050"/>
<rect x="570" y="466" width="2" height="1" fill="#505050"/>
<rect x="577" y="466" width="1" height="1" fill="#505050"/>
<rect x="584" y="466" width="1" height="1" fill="#505050"/>
<rect x="590" y="466" width="2" height="1" fill="#505050"/>
<rect x="597" y="466" width="1" height="1" fill="#505050"/>
<rect x="603" y="466" width="2" height="1" fill="#505050"/>
<rect x="610" y="466" width="1" height="1" fill="#505050"/>
<rect x="616" y="466" width="2" height="1" fill="#505050"/>
<rect x="623" y="466" width="1" height="1" fill="#505050"/>
<rect x="629" y="466" width="2" height="1" fill="#505050"/>
<rect x="636" y="466" width="1" height="1" fill="#505050"/>
<rect x="642" y="466" width="2" height="1" fill="#505050"/>
<rect x="649" y="466" width="1" height="1" fill="#505050"/>
<rect x="655" y="466" width="2" height="1" fill="#505050"/>
<rect x="662" y="466" width="2" height="1" fill="#505050"/>
<rect x="669" y="466" width="1" height="1" fill="#505050"/>
<rect x="675" y="466" width="2" height="1" fill="#505050"/>
<rect x="682" y="466" width="1" height="1" fill="#505050"/>
<rect x="688" y="466" width="2" height="1" fill="#505050"/>
<rect x="695" y="466" width="1" height="1" fill="#505050"/>
<rect x="701" y="466" width="2" height="1" fill="#505050"/>
<rect x="708" y="466" width="1" height="1" fill="#505050"/>
<rect x="714" y="466" width="2" height="1" fill="#505050"/>
<rect x="721" y="466" width="1" height="1" fill="#505050"/>
<rect x="727" y="466" width="2" height="1" fill="#505050"/>
<rect x="86" y="495" width="2" height="1" fill="#505050"/>
<rect x="93" y="495" width="1" height="1" fill="#505050"/>
<rect x="99" y="495" width="2" height="1" fill="#505050"/>
<rect x="106" y="495" width="1" height="1" fill="#505050"/>
<rect x="112" y="495" width="2" height="1" fill="#505050"/>
<rect x="119" y="495" width="1" height="1" fill="#505050"/>
<rect x="126" y="495" width="1" height="1" fill="#505050"/>
<rect x="132" y="495" width="2" height="1" fill="#505050"/>
<rect x="139" y="495" width="1" height="1" fill="#505050"/>
<rect x="145" y="495" width="2" height="1" fill="#505050"/>
<rect x="152" y="495" width="1" height="1" fill="#505050"/>
<rect x="158" y="495" width="2" height="1" fill="#505050"/>
<rect x="165" y="495" width="1" height="1" fill="#505050"/>
<rect x="171" y="495" width="2" height="1" fill="#505050"/>
<rect x="178" y="495" width="1" height="1" fill="#505050"/>
<rect x="184" y="495" width="2" height="1" fill="#505050"/>
<rect x="191" y="495" width="1" height="1" fill="#505050"/>
<rect x="197" y="495" width="2" height="1" fill="#505050"/>
<rect x="204" y="495" width="2" height="1" fill="#505050"/>
<rect x="211" y="495" width="1" height="1" fill="#505050"/>
<rect x="217" y="495" width="2" height="1" fill="#505050"/>
<rect x="224" y="495" width="1" height="1" fill="#505050"/>
<rect x="230" y="495" width="2" height="1" fill="#505050"/>
<rect x="237" y="495" width="1" height="1" fill="#505050"/>
<rect x="243" y="495" width="2" height="1" fill="#505050"/>
<rect x="250" y="495" width="1" height="1" fill="#505050"/>
<rect x="256" y="495" width="2" height="1" fill="#505050"/>
<rect x="263" y="495" width="1" height="1" fill="#505050"/>
<rect x="269" y="495" width="2" height="1" fill="#505050"/>
<rect x="276" y="495" width="1" height="1" fill="#505050"/>
<rect x="283" y="495" width="1" height="1" fill="#505050"/>
<rect x="289" y="495" width="2" height="1" fill="#505050"/>
<rect x="296" y="495" width="1" height="1" fill="#505050"/>
<rect x="302" y="495" width="2" height="1" fill="#505050"/>
<rect x="309" y="495" width="1" height="1" fill="#505050"/>
<rect x="315" y="495" width="2" height="1" fill="#505050"/>
<rect x="322" y="495" width="1" height="1" fill="#505050"/>
<rect x="328" y="495" width="2" height="1" fill="#505050"/>
<rect x="335" y="495" width="1" height="1" fill="#505050"/>
<rect x="341" y="495" width="2" height="1" fill="#505050"/>
<rect x="348" y="495" width="1" height="1" fill="#505050"/>
<rect x="355" y="495" width="1" height="1" fill="#505050"/>
<rect x="361" y="495" width="2" height="1" fill="#505050"/>
<rect x="368" y="495" width="1" height="1" fill="#505050"/>
<rect x="374" y="495" width="2" height="1" fill="#505050"/>
<rect x="381" y="495" width="1" height="1" fill="#505050"/>
<rect x="387" y="495" width="2" height="1" fill="#505050"/>
<rect x="394" y="495" width="1" height="1" fill="#505050"/>
<rect x="400" y="495" width="2" height="1" fill="#505050"/>
<rect x="407" y="495" width="1" height="1" fill="#505050"/>
<rect x="413" y="495" width="2" height="1" fill="#505050"/>
<rect x="420" y="495" width="1" height="1" fill="#505050"/>
<rect x="426" y="495" width="2" height="1" fill="#505050"/>
<rect x="433" y="495" width="2" height="1" fill="#505050"/>
<rect x="440" y="495" width="1" height="1" fill="#505050"/>
<rect x="446" y="495" width="2" height="1" fill="#505050"/>
<rect x="453" y="495" width="1" height="1" fill="#505050"/>
<rect x="459" y="495" width="2" height="1" fill="#505050"/>
<rect x="466" y="495" width="1" height="1" fill="#505050"/>
<rect x="472" y="495" width="2" height="1" fill="#505050"/>
<rect x="479" y="495" width="1" height="1" fill="#505050"/>
<rect x="485" y="495" width="2" height="1" fill="#505050"/>
<rect x="492" y="495" width="1" height="1" fill="#505050"/>
<rect x="498" y="495" width="2" height="1" fill="#505050"/>
<rect x="505" y="495" width="2" height="1" fill="#505050"/>
<rect x="512" y="495" width="1" height="1" fill="#505050"/>
<rect x="518" y="495" width="2" height="1" fill="#505050"/>
<rect x="525" y="495" width="1" height="1" fill="#505050"/>
<rect x="531" y="495" width="2" height="1" fill="#505050"/>
<rect x="538" y="495" width="1" height="1" fill="#505050"/>
<rect x="544" y="495" width="2" height="1" fill="#505050"/>
<rect x="551" y="495" width="1" height="1" fill="#505050"/>
<rect x="557" y="495" width="2" height="1" fill="#505050"/>
<rect x="564" y="495" width="1" height="1" fill="#505050"/>
<rect x="570" y="495" width="2" height="1" fill="#505050"/>
<rect x="577" y="495" width="1" height="1" fill="#505050"/>
<rect x="584" y="495" width="1" height="1" fill="#505050"/>
<rect x="590" y="495" width="2" height="1" fill="#505050"/>
<rect x="597" y="495" width="1" height="1" fill="#505050"/>
<rect x="603" y="495" width="2" height="1" fill="#505050"/>
<rect x="610" y="495" width="1" height="1" fill="#505050"/>
<rect x="616" y="495" width="2" height="1" fill="#505050"/>
<rect x="623" y="495" width="1" height="1" fill="#505050"/>
<rect x="629" y="495" width="2" height="1" fill="#505050"/>
<rect x="636" y="495" width="1" height="1" fill="#505050"/>
<rect x="642" y="495" width="2" height="1" fill="#505050"/>
<rect x="649" y="495" width="1" height="1" fill="#505050"/>
<rect x="655" y="495" width="2" height="1" fill="#505050"/>
<rect x="662" y="495" width="2" height="1" fill="#505050"/>
<rect x="669" y="495" width="1" height="1" fill="#505050"/>
<rect x="675" y="495" width="2" height="1" fill="#505050"/>
<rect x="682" y="495" width="1" height="1" fill="#505050"/>
<rect x="688" y="495" width="2" height="1" fill="#505050"/>
<rect x="695" y="495" width="1" height="1" fill="#505050"/>
<rect x="701" y="495" width="2" height="1" fill="#505050"/>
<rect x="708" y="495" width="1" height="1" fill="#505050"/>
<rect x="714" y="495" width="2" height="1" fill="#505050"/>
<rect x="721" y="495" width="1" height="1" fill="#505050"/>
<rect x="727" y="495" width="2" height="1" fill="#505050"/>
<rect x="86" y="523" width="2" height="1" fill="#505050"/>
<rect x="93" y="523" width="1" height="1" fill="#505050"/>
<rect x="99" y="523" width="2" height="1" fill="#505050"/>
<rect x="106" y="523" width="1" height="1" fill="#505050"/>
<rect x="112" y="523" width="2" height="1" fill="#505050"/>
<rect x="119" y="523" width="1" height="1" fill="#505050"/>
<rect x="126" y="523" width="1" height="1" fill="#505050"/>
<rect x="132" y="523" width="2" height="1" fill="#505050"/>
<rect x="139" y="523" width="1" height="1" fill="#505050"/>
<rect x="145" y="523" width="2" height="1" fill="#505050"/>
<rect x="152" y="523" width="1" height="1" fill="#505050"/>
<rect x="158" y="523" width="2" height="1" fill="#505050"/>
<rect x="165" y="523" width="1" height="1" fill="#505050"/>
<rect x="171" y="523" width="2" height="1" fill="#505050"/>
<rect x="178" y="523" width="1" height="1" fill="#505050"/>
<rect x="184" y="523" width="2" height="1" fill="#505050"/>
<rect x="191" y="523" width="1" height="1" fill="#505050"/>
<rect x="197" y="523" width="2" height="1" fill="#505050"/>
<rect x="204" y="523" width="2" height="1" fill="#505050"/>
<rect x="211" y="523" width="1" height="1" fill="#505050"/>
<rect x="217" y="523" width="2" height="1" fill="#505050"/>
<rect x="224" y="523" width="1" height="1" fill="#505050"/>
<rect x="230" y="523" width="2" height="1" fill="#505050"/>
<rect x="237" y="523" width="1" height="1" fill="#505050"/>
<rect x="243" y="523" width="2" height="1" fill="#505050"/>
<rect x="250" y="523" width="1" height="1" fill="#505050"/>
<rect x="256" y="523" width="2" height="1" fill="#505050"/>
<rect x="263" y="523" width="1" height="1" fill="#505050"/>
<rect x="269" y="523" width="2" height="1" fill="#505050"/>
<rect x="276" y="523" width="1" height="1" fill="#505050"/>
<rect x="283" y="523" width="1" height="1" fill="#505050"/>
<rect x="289" y="523" width="2" height="1" fill="#505050"/>
<rect x="296" y="523" width="1" height="1" fill="#505050"/>
<rect x="302" y="523" width="2" height="1" fill="#505050"/>
<rect x="309" y="523" width="1" height="1" fill="#505050"/>
<rect x="315" y="523" width="2" height="1" fill="#505050"/>
<rect x="322" y="523" width="1" height="1" fill="#505050"/>
<rect x="328" y="523" width="2" height="1" fill="#505050"/>
<rect x="335" y="523" width="1" height="1" fill="#505050"/>
<rect x="341" y="523" width="2" height="1" fill="#505050"/>
<rect x="348" y="523" width="1" height="1" fill="#505050"/>
<rect x="355" y="523" width="1" height="1" fill="#505050"/>
<rect x="361" y="523" width="2" height="1" fill="#505050"/>
<rect x="368" y="523" width="1" height="1" fill="#505050"/>
<rect x="374" y="523" width="2" height="1" fill="#505050"/>
<rect x="381" y="523" width="1" height="1" fill="#505050"/>
<rect x="387" y="523" width="2" height="1" fill="#505050"/>
<rect x="394" y="523" width="1" height="1" fill="#505050"/>
<rect x="400" y="523" width="2" height="1" fill="#505050"/>
<rect x="407" y="523" width="1" height="1" fill="#505050"/>
<rect x="413" y="523" width="2" height="1" fill="#505050"/>
<rect x="420" y="523" width="1" height="1" fill="#505050"/>
<rect x="426" y="523" width="2" height="1" fill="#505050"/>
<rect x="433" y="523" width="2" height="1" fill="#505050"/>
<rect x="440" y="523" width="1" height="1" fill="#505050"/>
<rect x="446" y="523" width="2" height="1" fill="#505050"/>
<rect x="453" y="523" width="1" height="1" fill="#505050"/>
<rect x="459" y="523" width="2" height="1" fill="#505050"/>
<rect x="466" y="523" width="1" height="1" fill="#505050"/>
<rect x="472" y="523" width="2" height="1" fill="#505050"/>
<rect x="479" y="523" width="1" height="1" fill="#505050"/>
<rect x="485" y="523" width="2" height="1" fill="#505050"/>
<rect x="492" y="523" width="1" height="1" fill="#505050"/>
<rect x="498" y="523" width="2" height="1" fill="#505050"/>
<rect x="505" y="523" width="2" height="1" fill="#505050"/>
<rect x="512" y="523" width="1" height="1" fill="#505050"/>
<rect x="518" y="523" width="2" height="1" fill="#505050"/>
<rect x="525" y="523" width="1" height="1" fill="#505050"/>
<rect x="531" y="523" width="2" height="1" fill="#505050"/>
<rect x="538" y="523" width="1" height="1" fill="#505050"/>
<rect x="544" y="523" width="2" height="1" fill="#505050"/>
<rect x="551" y="523" width="1" height="1" fill="#505050"/>
<rect x="557" y="523" width="2" height="1" fill="#505050"/>
<rect x="564" y="523" width="1" height="1" fill="#505050"/>
<rect x="570" y="523" width="2" height="1" fill="#505050"/>
<rect x="577" y="523" width="1" height="1" fill="#505050"/>
<rect x="584" y="523" width="1" height="1" fill="#505050"/>
<rect x="590" y="523" width="2" height="1" fill="#505050"/>
<rect x="597" y="523" width="1" height="1" fill="#505050"/>
<rect x="603" y="523" width="2" height="1" fill="#505050"/>
<rect x="610" y="523" width="1" height="1" fill="#505050"/>
<rect x="616" y="523" width="2" height="1" fill="#505050"/>
<rect x="623" y="523" width="1" height="1" fill="#505050"/>
<rect x="629" y="523" width="2" height="1" fill="#505050"/>
<rect x="636" y="523" width="1" height="1" fill="#505050"/>
<rect x="642" y="523" width="2" height="1" fill="#505050"/>
<rect x="649" y="523" width="1" height="1" fill="#505050"/>
<rect x="655" y="523" width="2" height="1" fill="#505050"/>
<rect x="662" y="523" width="2" height="1" fill="#505050"/>
<rect x="669" y="523" width="1" height="1" fill="#505050"/>
<rect x="675" y="523" width="2" height="1" fill="#505050"/>
<rect x="682" y="523" width="1" height="1" fill="#505050"/>
<rect x="688" y="523" width="2" height="1" fill="#505050"/>
<rect x="695" y="523" width="1" height="1" fill="#505050"/>
<rect x="701" y="523" width="2" height="1" fill="#505050"/>
<rect x="708" y="523" width="1" height="1" fill="#505050"/>
<rect x="714" y="523" width="2" height="1" fill="#505050"/>
<rect x="721" y="523" width="1" height="1" fill="#505050"/>
<rect x="727" y="523" width="2" height="1" fill="#505050"/>
<rect x="80" y="339" width="654" height="212" fill="none" stroke="#000" stroke-width="2"/>
<rect x="96" y="552" width="1" height="3" fill="#000"/>
<rect x="175" y="552" width="1" height="3" fill="#000"/>
<rect x="255" y="552" width="1" height="3" fill="#000"/>
<rect x="335" y="552" width="1" height="3" fill="#000"/>
<rect x="415" y="552" width="1" height="3" fill="#000"/>
<rect x="494" y="552" width="1" height="3" fill="#000"/>
<rect x="574" y="552" width="1" height="3" fill="#000"/>
<rect x="654" y="552" width="1" height="3" fill="#000"/>
<rect x="734" y="552" width="1" height="3" fill="#000"/>
<rect x="76" y="353" width="3" height="1" fill="#000"/>
<rect x="76" y="382" width="3" height="1" fill="#000"/>
<rect x="76" y="410" width="3" height="1" fill="#000"/>
<rect x="76" y="438" width="3" height="1" fill="#000"/>
<rect x="76" y="466" width="3" height="1" fill="#000"/>
<rect x="76" y="495" width="3" height="1" fill="#000"/>
<rect x="76" y="523" width="3" height="1" fill="#000"/>
<rect x="76" y="551" width="3" height="1" fill="#000"/>
<g fill="#000" text-rendering="geometricPrecision">
<text x="80.5" y="37.9" font-size="13.4" font-family="'Liberation Sans', sans-serif" text-anchor="start" textLength="214.5" lengthAdjust="spacingAndGlyphs">DERF/NCC/BCC Monthly Forecast</text>
<text x="80.5" y="54.7" font-size="13.4" font-family="'Liberation Sans', sans-serif" text-anchor="start" textLength="106.5" lengthAdjust="spacingAndGlyphs">Member Size=40</text>
<text x="80.5" y="72.5" font-size="13.4" font-family="'Liberation Sans', sans-serif" text-anchor="start" textLength="179.5" lengthAdjust="spacingAndGlyphs">Mean Surf. Temp.: °C Anom.</text>
<text x="534.6" y="37.9" font-size="13.4" font-family="'Liberation Sans', sans-serif" text-anchor="start" textLength="199.6" lengthAdjust="spacingAndGlyphs">For 2008/08/06-2008/09/14</text>
<text x="492.6" y="54.7" font-size="13.4" font-family="'Liberation Sans', sans-serif" text-anchor="start" textLength="241.6" lengthAdjust="spacingAndGlyphs">Fcst Started Refer Date 2008/08/05</text>
<text x="519.6" y="72.5" font-size="13.4" font-family="'Liberation Sans', sans-serif" text-anchor="start" textLength="214.6" lengthAdjust="spacingAndGlyphs">Fcst Produced Date 2008/08/06</text>
<text x="73.5" y="125" font-size="11" font-family="'Liberation Sans', sans-serif" text-anchor="end" textLength="12.3" lengthAdjust="spacingAndGlyphs">27</text>
<text x="73.5" y="189" font-size="11" font-family="'Liberation Sans', sans-serif" text-anchor="end" textLength="12.3" lengthAdjust="spacingAndGlyphs">24</text>
<text x="73.5" y="253" font-size="11" font-family="'Liberation Sans', sans-serif" text-anchor="end" textLength="12.3" lengthAdjust="spacingAndGlyphs">21</text>
<text x="96" y="304" font-size="11" font-family="'Liberation Sans', sans-serif" text-anchor="middle" textLength="24.4" lengthAdjust="spacingAndGlyphs">6SEP</text>
<text x="175.75" y="304" font-size="11" font-family="'Liberation Sans', sans-serif" text-anchor="middle" textLength="30.5" lengthAdjust="spacingAndGlyphs">11SEP</text>
<text x="255.5" y="304" font-size="11" font-family="'Liberation Sans', sans-serif" text-anchor="middle" textLength="30.5" lengthAdjust="spacingAndGlyphs">16SEP</text>
<text x="335.25" y="304" font-size="11" font-family="'Liberation Sans', sans-serif" text-anchor="middle" textLength="30.5" lengthAdjust="spacingAndGlyphs">21SEP</text>
<text x="415" y="304" font-size="11" font-family="'Liberation Sans', sans-serif" text-anchor="middle" textLength="30.5" lengthAdjust="spacingAndGlyphs">26SEP</text>
<text x="494.75" y="304" font-size="11" font-family="'Liberation Sans', sans-serif" text-anchor="middle" textLength="24.4" lengthAdjust="spacingAndGlyphs">1OCT</text>
<text x="574.5" y="304" font-size="11" font-family="'Liberation Sans', sans-serif" text-anchor="middle" textLength="24.4" lengthAdjust="spacingAndGlyphs">6OCT</text>
<text x="654.25" y="304" font-size="11" font-family="'Liberation Sans', sans-serif" text-anchor="middle" textLength="30.5" lengthAdjust="spacingAndGlyphs">11OCT</text>
<text x="734" y="304" font-size="11" font-family="'Liberation Sans', sans-serif" text-anchor="middle" textLength="30.5" lengthAdjust="spacingAndGlyphs">16OCT</text>
<text x="96" y="315" font-size="11.3" font-family="'Liberation Sans', sans-serif" text-anchor="middle" textLength="24.5" lengthAdjust="spacingAndGlyphs">2008</text>
<text x="96" y="564.6" font-size="11" font-family="'Liberation Sans', sans-serif" text-anchor="middle" textLength="24.4" lengthAdjust="spacingAndGlyphs">6SEP</text>
<text x="175.75" y="564.6" font-size="11" font-family="'Liberation Sans', sans-serif" text-anchor="middle" textLength="30.5" lengthAdjust="spacingAndGlyphs">11SEP</text>
<text x="255.5" y="564.6" font-size="11" font-family="'Liberation Sans', sans-serif" text-anchor="middle" textLength="30.5" lengthAdjust="spacingAndGlyphs">16SEP</text>
<text x="335.25" y="564.6" font-size="11" font-family="'Liberation Sans', sans-serif" text-anchor="middle" textLength="30.5" lengthAdjust="spacingAndGlyphs">21SEP</text>
<text x="415" y="564.6" font-size="11" font-family="'Liberation Sans', sans-serif" text-anchor="middle" textLength="30.5" lengthAdjust="spacingAndGlyphs">26SEP</text>
<text x="494.75" y="564.6" font-size="11" font-family="'Liberation Sans', sans-serif" text-anchor="middle" textLength="24.4" lengthAdjust="spacingAndGlyphs">1OCT</text>
<text x="574.5" y="564.6" font-size="11" font-family="'Liberation Sans', sans-serif" text-anchor="middle" textLength="24.4" lengthAdjust="spacingAndGlyphs">6OCT</text>
<text x="654.25" y="564.6" font-size="11" font-family="'Liberation Sans', sans-serif" text-anchor="middle" textLength="30.5" lengthAdjust="spacingAndGlyphs">11OCT</text>
<text x="734" y="564.6" font-size="11" font-family="'Liberation Sans', sans-serif" text-anchor="middle" textLength="30.5" lengthAdjust="spacingAndGlyphs">16OCT</text>
<text x="96" y="575.6" font-size="11.3" font-family="'Liberation Sans', sans-serif" text-anchor="middle" textLength="24.5" lengthAdjust="spacingAndGlyphs">2008</text>
<text x="81" y="333.8" font-size="12" font-family="'Liberation Sans', sans-serif" text-anchor="start" textLength="112" lengthAdjust="spacingAndGlyphs">Prec.: log(mm/d)</text>
<text x="73.5" y="358.2" font-size="11" font-family="'Liberation Sans', sans-serif" text-anchor="end" textLength="5.5" lengthAdjust="spacingAndGlyphs">2</text>
<text x="73.5" y="386.4" font-size="11" font-family="'Liberation Sans', sans-serif" text-anchor="end" textLength="5.5" lengthAdjust="spacingAndGlyphs">1</text>
<text x="73.5" y="414.6" font-size="11" font-family="'Liberation Sans', sans-serif" text-anchor="end" textLength="5.5" lengthAdjust="spacingAndGlyphs">0</text>
<text x="73.5" y="442.8" font-size="11" font-family="'Liberation Sans', sans-serif" text-anchor="end" textLength="13.5" lengthAdjust="spacingAndGlyphs">−1</text>
<text x="73.5" y="471" font-size="11" font-family="'Liberation Sans', sans-serif" text-anchor="end" textLength="13.5" lengthAdjust="spacingAndGlyphs">−2</text>
<text x="73.5" y="499.2" font-size="11" font-family="'Liberation Sans', sans-serif" text-anchor="end" textLength="13.5" lengthAdjust="spacingAndGlyphs">−3</text>
<text x="73.5" y="527.4" font-size="11" font-family="'Liberation Sans', sans-serif" text-anchor="end" textLength="13.5" lengthAdjust="spacingAndGlyphs">−4</text>
<text x="73.5" y="555.6" font-size="11" font-family="'Liberation Sans', sans-serif" text-anchor="end" textLength="13.5" lengthAdjust="spacingAndGlyphs">−5</text>
<text x="4.5" y="597.6" font-size="10" font-family="'Liberation Sans', sans-serif" text-anchor="start" textLength="82.5" lengthAdjust="spacingAndGlyphs">GrADS: COLA/IGES</text>
<text x="382" y="584.6" font-size="12.6" font-family="'Liberation Sans', sans-serif" text-anchor="start" textLength="167.5" lengthAdjust="spacingAndGlyphs">http://ncc.cma.gov.cn(ch)</text>
<text x="566" y="584.6" font-size="12.6" font-family="'Liberation Sans', sans-serif" text-anchor="start" textLength="167" lengthAdjust="spacingAndGlyphs">http://bcc.cma.gov.cn(en)</text>
</g>
</svg>
</body></html>
